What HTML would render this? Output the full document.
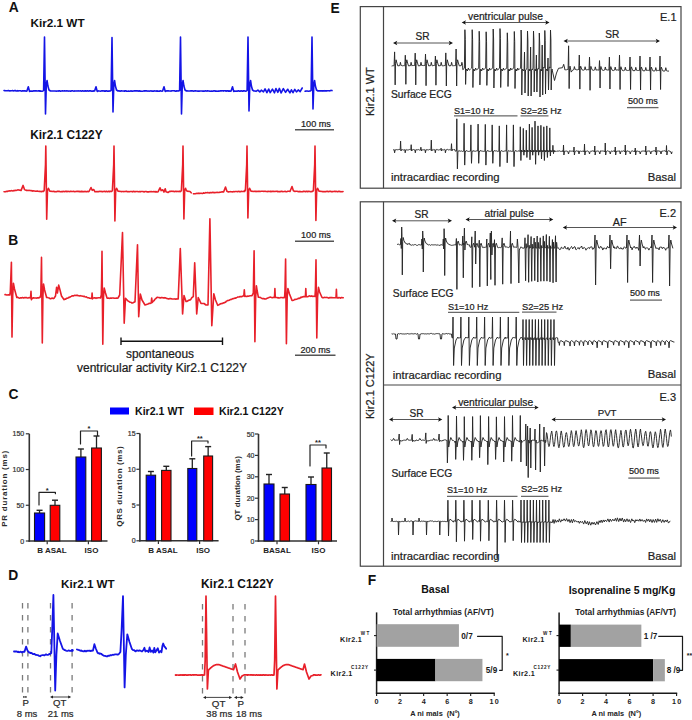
<!DOCTYPE html>
<html><head><meta charset="utf-8"><style>
html,body{margin:0;padding:0;background:#fff;}
svg{display:block;}
text{font-family:"Liberation Sans",sans-serif;}
</style></head><body>
<svg width="692" height="720" viewBox="0 0 692 720">
<rect width="692" height="720" fill="#fff"/>
<text x="8.7" y="12.4" font-family="Liberation Sans" font-size="13.8" font-weight="bold" fill="#111" text-anchor="start" >A</text>
<text x="30.4" y="26.6" font-family="Liberation Sans" font-size="11.75" font-weight="bold" fill="#111" text-anchor="start" >Kir2.1 WT</text>
<polyline points="4.00,90.50 4.72,90.61 5.43,90.75 6.15,90.73 6.86,90.81 7.58,90.66 8.29,90.43 9.01,90.79 9.72,90.86 10.44,90.84 11.15,90.69 11.87,90.78 12.58,90.54 13.30,90.87 14.01,90.76 14.73,90.63 15.45,90.53 16.16,90.94 16.88,91.03 17.59,90.59 18.31,90.96 19.02,90.78 19.74,90.67 20.45,90.76 21.17,91.01 21.88,91.08 22.60,90.68 23.31,90.98 24.03,90.71 24.74,91.06 25.46,90.88 26.17,91.17 26.89,91.00 26.90,91.00 28.30,86.80 29.50,91.40 30.50,91.00 31.23,91.24 31.96,91.00 32.69,91.25 33.42,90.90 34.14,90.79 34.87,91.05 35.60,90.77 36.33,90.85 37.06,90.95 37.79,91.06 38.52,90.83 39.25,90.77 39.97,91.18 40.70,90.91 41.43,91.23 42.16,91.20 42.89,91.00 42.90,91.00 43.60,90.40 44.50,37.00 45.50,114.00 46.30,85.00 47.10,80.50 47.90,86.00 49.00,90.00 50.50,91.00 51.21,90.94 51.92,90.98 52.63,91.01 53.34,91.07 54.06,91.05 54.77,91.03 55.48,91.06 56.19,91.22 56.90,91.00 57.61,90.97 58.32,91.11 59.03,90.87 59.74,90.90 60.46,91.24 61.17,91.01 61.88,91.02 62.59,90.76 63.30,90.96 64.01,91.04 64.72,90.76 65.43,91.06 66.14,91.07 66.86,90.78 67.57,91.06 68.28,90.98 68.99,91.09 69.70,90.93 70.41,91.10 71.12,91.12 71.83,90.76 72.54,90.78 73.26,91.09 73.97,91.23 74.68,90.88 75.39,90.98 76.10,91.05 76.81,90.91 77.52,90.93 78.23,90.91 78.95,90.93 79.66,91.05 80.37,90.90 81.08,90.94 81.79,91.14 82.50,90.76 83.21,91.03 83.92,91.12 84.63,90.91 85.35,90.86 86.06,91.15 86.77,90.87 87.48,90.84 88.19,90.97 88.90,91.10 89.61,90.80 90.32,90.91 91.03,90.92 91.75,91.17 92.46,90.97 93.17,91.18 93.88,90.83 94.59,91.00 94.60,91.00 96.00,86.80 97.20,91.40 98.20,91.00 98.92,90.92 99.63,91.08 100.35,91.19 101.07,90.98 101.79,90.86 102.50,90.81 103.22,91.01 103.94,90.85 104.65,91.15 105.37,91.17 106.09,90.84 106.80,90.89 107.52,91.15 108.24,91.07 108.96,91.15 109.67,90.92 110.39,91.00 110.40,91.00 111.10,90.40 112.00,37.50 113.00,112.00 113.80,85.00 114.60,80.50 115.40,86.00 116.50,90.00 118.00,91.00 118.71,90.81 119.42,90.90 120.12,91.15 120.83,90.89 121.54,90.92 122.25,90.96 122.95,90.96 123.66,90.95 124.37,91.21 125.08,90.83 125.79,90.75 126.49,91.22 127.20,91.19 127.91,91.24 128.62,90.97 129.32,91.23 130.03,91.21 130.74,90.86 131.45,91.12 132.16,91.17 132.86,91.08 133.57,91.01 134.28,90.89 134.99,90.92 135.69,90.86 136.40,90.78 137.11,91.04 137.82,90.89 138.53,91.16 139.23,90.77 139.94,91.20 140.65,91.10 141.36,91.21 142.06,91.20 142.77,91.20 143.48,91.04 144.19,90.76 144.90,91.12 145.60,90.84 146.31,90.90 147.02,91.08 147.73,91.01 148.43,90.96 149.14,91.22 149.85,91.06 150.56,90.92 151.27,90.88 151.97,91.18 152.68,90.99 153.39,91.14 154.10,90.93 154.80,90.85 155.51,91.02 156.22,91.16 156.93,90.84 157.64,91.15 158.34,91.21 159.05,91.15 159.76,91.16 160.47,90.75 161.17,91.06 161.88,91.18 162.59,91.00 162.60,91.00 164.00,86.80 165.20,91.40 166.20,91.00 166.91,90.77 167.61,90.89 168.31,90.88 169.02,91.01 169.72,90.96 170.43,90.99 171.13,91.14 171.84,90.75 172.55,90.78 173.25,90.81 173.96,90.81 174.66,90.78 175.37,91.24 176.07,91.18 176.78,90.79 177.48,91.00 178.19,90.91 178.89,91.00 178.90,91.00 179.60,90.40 180.50,37.00 181.50,114.00 182.30,85.00 183.10,80.50 183.90,86.00 185.00,90.00 186.50,91.00 187.21,90.91 187.92,90.93 188.62,91.07 189.33,91.04 190.04,90.93 190.75,90.85 191.45,90.91 192.16,90.81 192.87,91.03 193.58,91.11 194.29,90.94 194.99,90.79 195.70,90.84 196.41,90.94 197.12,91.05 197.82,91.14 198.53,90.94 199.24,91.15 199.95,91.06 200.66,90.97 201.36,90.94 202.07,91.00 202.78,91.10 203.49,90.96 204.19,91.10 204.90,90.98 205.61,90.87 206.32,91.02 207.03,91.10 207.73,90.79 208.44,90.96 209.15,90.96 209.86,91.19 210.56,91.22 211.27,90.94 211.98,91.20 212.69,91.15 213.40,90.88 214.10,90.98 214.81,90.81 215.52,91.16 216.23,91.08 216.93,91.19 217.64,91.15 218.35,91.08 219.06,91.12 219.77,91.03 220.47,90.80 221.18,91.04 221.89,90.75 222.60,90.82 223.30,91.14 224.01,90.77 224.72,90.80 225.43,90.80 226.14,91.19 226.84,90.84 227.55,90.76 228.26,91.17 228.97,90.81 229.67,91.17 230.38,91.09 231.09,91.00 231.10,91.00 232.50,86.80 233.70,91.40 234.70,91.00 235.43,91.17 236.16,91.23 236.89,91.04 237.62,91.15 238.35,90.77 239.08,91.13 239.81,91.01 240.55,91.11 241.28,90.80 242.01,91.12 242.74,91.22 243.47,90.78 244.20,90.91 244.93,91.03 245.66,91.16 246.39,91.00 246.40,91.00 247.10,90.40 248.00,37.00 249.00,111.00 249.80,85.00 250.60,80.50 251.40,86.00 252.50,90.00 254.00,91.00 255.00,91.00 256.00,91.34 257.89,90.05 259.83,91.90 261.29,90.16 263.45,91.79 265.06,88.88 266.88,92.68 268.71,89.06 270.24,92.61 272.43,89.06 274.49,92.83 275.95,88.61 277.88,92.31 279.31,88.41 281.14,92.95 283.33,88.70 285.56,92.36 287.68,89.25 289.92,92.82 291.41,89.81 293.00,92.68 294.79,89.44 296.47,91.92 298.21,89.94 300.14,91.70 302.20,88.00" fill="none" stroke="#1414e6" stroke-width="1.6" stroke-linejoin="round" stroke-linecap="round" />
<polyline points="305.10,91.30 305.86,91.13 306.61,91.05 307.37,91.05 308.12,91.19 308.88,91.21 309.63,90.99 310.39,91.00 310.40,91.00 311.10,90.40 312.00,37.00 313.00,109.00 313.80,85.00 314.60,80.50 315.40,86.00 316.50,90.00 318.00,91.00 318.70,90.91 319.40,90.91 320.10,90.87 320.80,90.88 321.50,90.69 322.20,90.88 322.90,91.10 323.60,90.80 324.30,90.94 325.00,90.63 325.70,90.88 326.40,90.89 327.10,90.83 327.80,90.73 328.50,90.69 329.20,90.75 329.90,90.86 330.60,90.46 331.30,90.42 332.00,90.60" fill="none" stroke="#1414e6" stroke-width="1.6" stroke-linejoin="round" stroke-linecap="round" />
<text x="30.2" y="138.6" font-family="Liberation Sans" font-size="11.85" font-weight="bold" fill="#111" text-anchor="start" >Kir2.1 C122Y</text>
<polyline points="4.00,191.70 4.70,191.77 5.41,191.79 6.11,191.47 6.82,191.34 7.52,191.43 8.23,191.03 8.93,190.99 9.64,190.87 10.34,191.02 11.05,190.78 11.75,190.65 12.46,190.84 13.16,190.92 13.87,190.44 14.57,190.61 15.28,190.35 15.98,190.54 16.69,190.29 17.39,190.02 18.10,189.91 18.80,190.00 21.10,190.40 23.10,185.40 24.50,189.60 26.10,190.40 26.82,190.16 27.54,190.48 28.26,190.47 28.98,190.39 29.70,190.55 30.43,190.57 31.15,190.89 31.87,190.55 32.59,191.11 33.31,190.85 34.03,190.96 34.75,190.93 35.47,191.20 36.19,191.23 36.91,191.12 37.63,191.12 38.35,191.31 39.08,191.44 39.80,191.21 40.52,191.46 41.24,191.64 41.96,191.39 42.68,191.29 43.40,191.50 44.20,190.50 45.50,164.50 45.80,146.00 46.15,171.50 46.70,219.20 47.50,190.00 48.40,188.30 49.80,191.10 52.80,191.50 53.51,191.34 54.22,191.63 54.93,191.61 55.64,191.78 56.35,191.71 57.06,191.35 57.77,191.31 58.48,191.36 59.19,191.31 59.90,191.62 60.61,191.72 61.32,191.74 62.03,191.35 62.74,191.72 63.45,191.39 64.16,191.45 64.87,191.64 65.58,191.25 66.29,191.26 67.00,191.70 67.71,191.38 68.42,191.41 69.13,191.55 69.84,191.61 70.55,191.20 71.25,191.40 71.96,191.46 72.67,191.49 73.38,191.33 74.09,191.55 74.80,191.77 75.51,191.43 76.22,191.53 76.93,191.27 77.64,191.36 78.35,191.60 79.06,191.27 79.77,191.73 80.48,191.75 81.19,191.26 81.90,191.76 82.61,191.42 83.32,191.66 84.03,191.65 84.74,191.38 85.45,191.61 86.16,191.59 86.87,191.68 87.58,191.36 88.29,191.65 89.00,191.50 91.00,187.50 92.20,190.30 93.80,189.50 95.00,191.80 97.00,191.50 97.73,191.78 98.46,191.60 99.19,191.52 99.92,191.27 100.65,191.50 101.38,191.41 102.11,191.63 102.84,191.61 103.57,191.54 104.30,191.31 105.03,191.59 105.76,191.58 106.49,191.31 107.22,191.73 107.95,191.59 108.68,191.27 109.41,191.76 110.14,191.28 110.87,191.40 111.60,191.50 112.40,190.50 113.70,164.50 114.00,146.00 114.35,171.50 114.90,221.00 115.70,190.00 116.60,188.30 118.00,191.10 121.00,191.50 121.71,191.64 122.42,191.57 123.13,191.55 123.85,191.61 124.56,191.50 125.27,191.42 125.98,191.35 126.69,191.29 127.40,191.68 128.12,191.71 128.83,191.59 129.54,191.71 130.25,191.49 130.96,191.44 131.67,191.52 132.38,191.82 133.10,191.32 133.81,191.61 134.52,191.46 135.23,191.78 135.94,191.53 136.65,191.53 137.37,191.57 138.08,191.66 138.79,191.81 139.50,191.56 140.21,191.86 140.92,191.43 141.63,191.53 142.35,191.43 143.06,191.45 143.77,191.85 144.48,191.83 145.19,191.51 145.90,191.52 146.62,191.66 147.33,191.86 148.04,191.91 148.75,191.87 149.46,191.79 150.17,191.52 150.88,191.68 151.60,191.56 152.31,191.77 153.02,191.80 153.73,191.59 154.44,191.62 155.15,191.95 155.87,191.50 156.58,191.97 157.29,192.03 158.00,191.80 160.00,187.80 161.20,190.60 162.80,189.80 164.00,192.10 165.20,188.80 166.00,191.80 168.00,192.50 170.00,191.20 170.71,191.49 171.41,191.17 172.12,191.29 172.83,191.33 173.53,191.38 174.24,191.61 174.95,191.45 175.65,191.24 176.36,191.60 177.07,191.39 177.77,191.48 178.48,191.58 179.19,191.16 179.89,191.64 180.60,191.50 181.40,190.50 182.70,164.50 183.00,146.00 183.35,171.50 183.90,219.00 184.70,190.00 185.60,188.30 185.80,189.50 187.00,191.10 190.00,191.50 191.20,192.80" fill="none" stroke="#e8202a" stroke-width="1.6" stroke-linejoin="round" stroke-linecap="round" />
<polyline points="193.40,193.80 194.12,193.84 194.84,193.69 195.57,193.66 196.29,193.57 197.01,193.36 197.73,193.50 198.45,193.16 199.17,193.38 199.90,193.42 200.62,193.24 201.34,193.27 202.06,193.45 202.78,193.36 203.50,192.85 204.23,193.19 204.95,193.04 205.67,192.64 206.39,192.78 207.11,192.65 207.83,192.50 208.56,192.73 209.28,192.91 210.00,192.60 210.71,192.46 211.42,192.76 212.13,192.62 212.84,192.25 213.55,192.66 214.26,192.47 214.97,192.64 215.68,192.48 216.39,192.46 217.11,192.19 217.82,192.44 218.53,192.48 219.24,192.41 219.95,192.12 220.66,192.28 221.37,192.09 222.08,191.83 222.79,191.76 223.50,192.00 223.70,191.70 225.50,187.00 226.90,191.20 228.50,192.00 229.25,191.70 229.99,191.73 230.74,191.66 231.48,191.82 232.23,191.89 232.97,191.75 233.72,191.64 234.46,191.73 235.21,191.47 235.95,191.52 236.70,191.50 237.42,191.65 238.14,191.44 238.85,191.31 239.57,191.74 240.29,191.63 241.01,191.42 241.73,191.42 242.45,191.52 243.16,191.56 243.88,191.33 244.60,191.50 244.70,190.20 245.40,190.50 246.70,164.50 247.00,146.00 247.35,171.50 247.90,218.00 248.70,190.00 249.60,188.30 251.00,191.10 254.00,191.50 254.71,191.20 255.41,191.33 256.12,191.67 256.82,191.29 257.53,191.48 258.24,191.32 258.94,191.33 259.65,191.30 260.35,191.44 261.06,191.30 261.76,191.22 262.47,191.27 263.18,191.30 263.88,191.49 264.59,191.24 265.29,191.21 266.00,191.47 266.71,191.44 267.41,191.62 268.12,191.23 268.82,191.44 269.53,191.44 270.24,191.22 270.94,191.78 271.65,191.33 272.35,191.26 273.06,191.48 273.76,191.30 274.47,191.57 275.18,191.41 275.88,191.27 276.59,191.23 277.29,191.64 278.00,191.37 278.71,191.67 279.41,191.48 280.12,191.76 280.82,191.38 281.53,191.35 282.24,191.36 282.94,191.69 283.65,191.58 284.35,191.41 285.06,191.26 285.76,191.61 286.47,191.78 287.18,191.56 287.88,191.20 288.59,191.22 289.29,191.25 290.00,191.50 292.00,186.50 293.40,190.70 295.00,191.50 295.70,191.30 296.41,191.22 297.11,191.23 297.82,191.59 298.52,191.74 299.22,191.32 299.93,191.78 300.63,191.49 301.34,191.68 302.04,191.75 302.74,191.76 303.45,191.22 304.15,191.38 304.86,191.56 305.56,191.77 306.26,191.25 306.97,191.38 307.67,191.71 308.38,191.27 309.08,191.43 309.78,191.40 310.49,191.61 311.19,191.76 311.90,191.30 312.60,191.50 313.40,190.50 314.70,164.50 315.00,146.00 315.35,171.50 315.90,220.50 316.70,190.00 317.60,188.30 319.00,191.10 322.00,191.50 322.70,191.64 323.40,191.64 324.10,191.70 324.80,191.53 325.50,191.75 326.20,191.42 326.90,191.45 327.60,191.34 328.30,191.67 329.00,191.49 329.70,191.36 330.40,191.30 331.10,191.63 331.80,191.56 332.50,191.63 333.20,191.43 333.90,191.49 334.60,191.29 335.30,191.63 336.00,191.21 336.70,191.48 337.40,191.66 338.10,191.61 338.80,191.26 339.50,191.34 340.20,191.71 340.90,191.59 341.60,191.73 342.30,191.72 343.00,191.50" fill="none" stroke="#e8202a" stroke-width="1.6" stroke-linejoin="round" stroke-linecap="round" />
<text x="301" y="126.5" font-family="Liberation Sans" font-size="9.15" font-weight="normal" fill="#222" stroke="#222" stroke-width="0.22" text-anchor="start" >100 ms</text>
<line x1="295" y1="129.8" x2="334" y2="129.8" stroke="#555" stroke-width="1.6" />
<text x="301" y="238.3" font-family="Liberation Sans" font-size="9.15" font-weight="normal" fill="#222" stroke="#222" stroke-width="0.22" text-anchor="start" >100 ms</text>
<line x1="295" y1="241.3" x2="334" y2="241.3" stroke="#555" stroke-width="1.6" />
<text x="8.3" y="244.6" font-family="Liberation Sans" font-size="13.8" font-weight="bold" fill="#111" text-anchor="start" >B</text>
<polyline points="5.00,294.60 5.80,294.63 6.60,295.01 7.40,294.96 8.20,294.75 9.00,294.84 9.80,295.00 10.30,292.00 11.40,262.20 12.00,337.10 12.70,296.00 13.40,283.20 14.50,289.00 16.80,297.50 17.60,297.33 18.40,297.68 19.20,298.19 20.00,298.00 20.71,297.69 21.43,297.99 22.14,297.64 22.86,297.59 23.57,297.96 24.29,297.65 25.00,297.80 25.79,297.51 26.57,297.61 27.36,297.99 28.14,297.97 28.93,297.60 29.71,297.78 30.50,298.00 31.00,291.40 31.40,299.70 31.80,298.00 32.64,298.33 33.48,297.80 34.32,298.04 35.16,297.94 36.00,298.00 36.80,298.10 37.60,297.87 38.40,297.90 39.20,297.62 40.00,297.50 40.80,295.00 41.50,257.40 42.30,343.00 42.90,297.00 43.50,284.00 44.60,290.00 46.60,297.50 47.45,297.56 48.30,297.82 49.15,298.03 50.00,298.60 50.80,298.75 51.60,298.17 52.40,298.03 53.20,298.61 54.00,298.20 55.50,296.00 56.60,287.30 57.40,293.00 58.70,285.10 60.00,290.00 61.50,296.00 64.10,299.70 64.88,299.15 65.66,299.30 66.44,298.39 67.22,298.32 68.00,298.00 68.80,297.37 69.60,297.35 70.40,296.76 71.20,296.34 72.00,295.80 72.80,295.88 73.60,295.86 74.40,295.39 75.20,295.47 76.00,295.30 76.75,295.35 77.50,295.20 78.25,295.80 79.00,295.72 79.75,295.96 80.50,295.62 81.25,295.94 82.00,296.00 82.73,296.17 83.45,296.56 84.18,296.30 84.91,296.69 85.64,296.99 86.36,296.90 87.09,297.44 87.82,297.76 88.55,297.75 89.27,298.10 90.00,298.20 91.70,298.50 92.10,293.10 92.50,299.00 93.00,298.00 93.75,298.07 94.50,297.80 95.25,297.90 96.00,298.35 96.75,297.88 97.50,297.95 98.25,297.71 99.00,297.80 99.75,297.77 100.50,298.00 101.30,295.00 101.70,276.70 102.00,251.30 102.80,344.20 103.50,297.00 104.20,288.00 105.50,293.00 107.00,298.00 107.71,298.30 108.43,298.16 109.14,298.26 109.86,298.34 110.57,298.08 111.29,298.30 112.00,298.00 112.75,298.03 113.50,297.94 114.25,298.31 115.00,298.28 115.75,298.31 116.50,297.99 117.25,298.19 118.00,298.00 119.70,295.00 122.50,232.50 124.20,323.30 125.50,298.30 128.00,301.00 128.75,301.27 129.50,302.01 130.25,302.29 131.00,302.19 131.75,302.97 132.50,303.00 135.00,301.70 137.50,244.70 138.70,316.70 140.30,294.00 142.00,300.00 145.00,305.00 148.00,304.00 148.80,303.53 149.60,303.22 150.40,303.41 151.20,303.00 151.70,298.00 152.20,302.50 152.95,301.52 153.70,300.85 154.45,300.10 155.20,298.85 155.95,298.50 156.70,297.50 157.45,297.39 158.21,297.54 158.96,297.53 159.72,297.85 160.47,297.90 161.23,297.62 161.98,297.54 162.74,297.72 163.49,297.85 164.25,297.66 165.00,298.00 165.70,297.86 166.40,298.38 167.10,298.44 167.80,298.73 168.50,298.84 169.20,298.86 169.90,298.61 170.60,298.56 171.30,298.77 172.00,299.00 172.78,298.97 173.55,299.02 174.32,299.03 175.10,298.90 175.88,299.25 176.65,298.85 177.42,298.97 178.20,299.00 180.30,248.50 182.60,314.00 184.00,295.60 186.00,301.40 186.80,301.39 187.60,301.05 188.40,300.42 189.20,300.10 190.00,300.00 190.82,299.36 191.65,297.96 192.48,297.19 193.30,296.60 194.70,262.90 196.70,314.00 198.20,297.50 201.00,303.40 204.00,303.50 206.00,305.00 208.00,305.00 209.90,218.80 211.80,325.80 213.80,293.70 215.50,300.00 217.70,305.30 218.42,305.02 219.13,304.73 219.85,304.17 220.57,303.79 221.28,303.59 222.00,303.50 222.71,303.36 223.42,302.81 224.13,302.84 224.84,302.37 225.56,302.17 226.27,301.17 226.98,300.95 227.69,300.49 228.40,300.50 229.20,300.17 230.00,299.82 230.80,299.33 231.60,299.39 232.40,298.79 233.20,298.65 234.00,298.50 234.75,298.09 235.50,298.24 236.25,297.73 237.00,297.38 237.75,296.99 238.50,297.03 239.25,296.93 240.00,296.60 240.76,296.60 241.52,296.65 242.28,296.46 243.04,295.94 243.80,296.00 244.30,289.80 244.80,296.50 245.54,296.14 246.29,296.48 247.03,296.40 247.77,296.11 248.51,296.23 249.26,295.94 250.00,295.80 252.00,295.60 253.30,293.00 253.60,278.00 254.10,250.70 254.90,341.70 255.70,297.00 256.40,285.90 257.20,291.00 258.40,297.30 259.13,297.32 259.87,297.42 260.60,297.50 261.33,298.11 262.07,298.47 262.80,298.65 263.53,298.52 264.27,298.84 265.00,298.90 265.71,298.97 266.43,298.66 267.14,298.29 267.86,297.93 268.57,297.77 269.29,297.30 270.00,297.30 270.75,297.11 271.50,297.50 272.25,297.74 273.00,297.47 273.75,297.40 274.50,297.50 274.90,288.60 275.30,297.50 276.08,297.45 276.87,297.57 277.65,297.86 278.43,297.67 279.22,298.07 280.00,297.80 280.77,297.51 281.53,297.57 282.30,297.67 283.07,297.54 283.83,297.80 284.60,297.50 285.00,290.00 285.60,259.10 286.40,343.70 287.20,297.00 287.90,288.60 289.50,294.00 292.00,300.40 292.71,300.43 293.43,300.30 294.14,299.88 294.86,299.27 295.57,299.45 296.29,299.23 297.00,299.00 297.72,298.72 298.44,298.31 299.17,298.35 299.89,298.22 300.61,297.39 301.33,297.52 302.06,297.04 302.78,296.88 303.50,296.60 305.40,296.60 305.80,288.60 306.20,296.60 306.96,296.76 307.72,296.68 308.48,296.34 309.24,295.91 310.00,296.00 310.71,296.37 311.43,295.92 312.14,296.13 312.86,296.52 313.57,296.23 314.29,296.27 315.00,296.50 315.40,290.00 316.00,259.90 316.80,337.90 317.60,297.00 318.50,287.40 319.60,292.00 321.90,297.30 322.66,297.68 323.42,297.74 324.19,297.36 324.95,297.47 325.71,297.46 326.48,297.42 327.24,297.56 328.00,297.80 328.77,298.14 329.53,297.51 330.30,297.61 331.07,297.59 331.83,297.51 332.60,297.80 333.45,297.74 334.30,297.82 335.15,297.81 336.00,297.50 336.40,289.20 336.80,297.80 337.52,297.89 338.24,298.02 338.97,297.45 339.69,297.65 340.41,298.12 341.13,297.50 341.86,297.64 342.58,297.79 343.30,297.80" fill="none" stroke="#e8202a" stroke-width="1.6" stroke-linejoin="round" stroke-linecap="round" />
<line x1="121" y1="341.2" x2="222.5" y2="341.2" stroke="#111" stroke-width="1.4" />
<line x1="121" y1="337.5" x2="121" y2="345" stroke="#111" stroke-width="1.4" />
<line x1="222.5" y1="337.5" x2="222.5" y2="345" stroke="#111" stroke-width="1.4" />
<text x="160" y="357.6" font-family="Liberation Sans" font-size="11.9" font-weight="normal" fill="#1a1a1a" stroke="#1a1a1a" stroke-width="0.22" text-anchor="middle" >spontaneous</text>
<text x="162" y="371.9" font-family="Liberation Sans" font-size="12" font-weight="normal" fill="#1a1a1a" stroke="#1a1a1a" stroke-width="0.22" text-anchor="middle" >ventricular activity Kir2.1 C122Y</text>
<text x="300.5" y="352.5" font-family="Liberation Sans" font-size="9.15" font-weight="normal" fill="#222" stroke="#222" stroke-width="0.22" text-anchor="start" >200 ms</text>
<line x1="295" y1="355.2" x2="335.5" y2="355.2" stroke="#555" stroke-width="1.6" />
<text x="8.4" y="398.8" font-family="Liberation Sans" font-size="13.8" font-weight="bold" fill="#111" text-anchor="start" >C</text>
<rect x="110" y="407.5" width="19" height="7" fill="#0000ff"/>
<text x="135" y="415" font-family="Liberation Sans" font-size="10.6" font-weight="bold" fill="#111" text-anchor="start" >Kir2.1 WT</text>
<rect x="194" y="407.5" width="19.5" height="7.5" fill="#ff0000"/>
<text x="219" y="415" font-family="Liberation Sans" font-size="10.6" font-weight="bold" fill="#111" text-anchor="start" >Kir2.1 C122Y</text>
<line x1="29.3" y1="433.8" x2="29.3" y2="541.8" stroke="#333" stroke-width="1.6" />
<line x1="28.5" y1="541" x2="107.5" y2="541" stroke="#333" stroke-width="1.6" />
<line x1="25.8" y1="433.8" x2="29.3" y2="433.8" stroke="#333" stroke-width="1.2" />
<text x="24.2" y="436.3" font-family="Liberation Sans" font-size="7" font-weight="normal" fill="#333" stroke="#333" stroke-width="0.22" text-anchor="end" >150</text>
<line x1="25.8" y1="469.53333333333336" x2="29.3" y2="469.53333333333336" stroke="#333" stroke-width="1.2" />
<text x="24.2" y="472.03333333333336" font-family="Liberation Sans" font-size="7" font-weight="normal" fill="#333" stroke="#333" stroke-width="0.22" text-anchor="end" >100</text>
<line x1="25.8" y1="505.26666666666665" x2="29.3" y2="505.26666666666665" stroke="#333" stroke-width="1.2" />
<text x="24.2" y="507.76666666666665" font-family="Liberation Sans" font-size="7" font-weight="normal" fill="#333" stroke="#333" stroke-width="0.22" text-anchor="end" >50</text>
<line x1="25.8" y1="541.0" x2="29.3" y2="541.0" stroke="#333" stroke-width="1.2" />
<text x="24.2" y="543.5" font-family="Liberation Sans" font-size="7" font-weight="normal" fill="#333" stroke="#333" stroke-width="0.22" text-anchor="end" >0</text>
<line x1="39.55" y1="510.3" x2="39.55" y2="513" stroke="#222" stroke-width="1.3" />
<line x1="36.55" y1="510.3" x2="42.55" y2="510.3" stroke="#222" stroke-width="1.4" />
<rect x="34.5" y="513" width="10.100000000000001" height="28" fill="#0000ff" stroke="#1a1a1a" stroke-width="1.1"/>
<line x1="55.0" y1="500.2" x2="55.0" y2="505.3" stroke="#222" stroke-width="1.3" />
<line x1="52.0" y1="500.2" x2="58.0" y2="500.2" stroke="#222" stroke-width="1.4" />
<rect x="50.2" y="505.3" width="9.599999999999994" height="35.69999999999999" fill="#ff0000" stroke="#1a1a1a" stroke-width="1.1"/>
<line x1="80.9" y1="449" x2="80.9" y2="457" stroke="#222" stroke-width="1.3" />
<line x1="77.9" y1="449" x2="83.9" y2="449" stroke="#222" stroke-width="1.4" />
<rect x="76" y="457" width="9.799999999999997" height="84" fill="#0000ff" stroke="#1a1a1a" stroke-width="1.1"/>
<line x1="96.5" y1="436" x2="96.5" y2="448" stroke="#222" stroke-width="1.3" />
<line x1="93.5" y1="436" x2="99.5" y2="436" stroke="#222" stroke-width="1.4" />
<rect x="91.6" y="448" width="9.800000000000011" height="93" fill="#ff0000" stroke="#1a1a1a" stroke-width="1.1"/>
<polyline points="39.00,505.00 39.00,492.30 55.40,492.30 55.40,493.70" fill="none" stroke="#222" stroke-width="1.2" stroke-linejoin="round" stroke-linecap="round" />
<text x="47.2" y="492.7" font-family="Liberation Sans" font-size="7.5" font-weight="bold" fill="#222" text-anchor="middle" >*</text>
<polyline points="80.50,444.00 80.50,431.00 97.50,431.00 97.50,435.50" fill="none" stroke="#222" stroke-width="1.2" stroke-linejoin="round" stroke-linecap="round" />
<text x="89.0" y="431.4" font-family="Liberation Sans" font-size="7.5" font-weight="bold" fill="#222" text-anchor="middle" >*</text>
<line x1="47.2" y1="541" x2="47.2" y2="544.3" stroke="#333" stroke-width="1.2" />
<line x1="88.4" y1="541" x2="88.4" y2="544.3" stroke="#333" stroke-width="1.2" />
<text x="52" y="552.5" font-family="Liberation Sans" font-size="8" font-weight="bold" fill="#222" text-anchor="middle" >B ASAL</text>
<text x="91.5" y="552.5" font-family="Liberation Sans" font-size="8" font-weight="bold" fill="#222" text-anchor="middle" >ISO</text>
<text x="0" y="0" font-family="Liberation Sans" font-size="8" font-weight="bold" fill="#2a2a2a" text-anchor="middle" letter-spacing="0.78" transform="translate(7.1,488.4) rotate(-90)">PR duration (ms)</text>
<line x1="139.9" y1="433.5" x2="139.9" y2="541.5999999999999" stroke="#333" stroke-width="1.6" />
<line x1="139.1" y1="540.8" x2="218.6" y2="540.8" stroke="#333" stroke-width="1.6" />
<line x1="136.4" y1="433.5" x2="139.9" y2="433.5" stroke="#333" stroke-width="1.2" />
<text x="135.6" y="436.0" font-family="Liberation Sans" font-size="7" font-weight="normal" fill="#333" stroke="#333" stroke-width="0.22" text-anchor="end" >15</text>
<line x1="136.4" y1="469.26666666666665" x2="139.9" y2="469.26666666666665" stroke="#333" stroke-width="1.2" />
<text x="135.6" y="471.76666666666665" font-family="Liberation Sans" font-size="7" font-weight="normal" fill="#333" stroke="#333" stroke-width="0.22" text-anchor="end" >10</text>
<line x1="136.4" y1="505.0333333333333" x2="139.9" y2="505.0333333333333" stroke="#333" stroke-width="1.2" />
<text x="135.6" y="507.5333333333333" font-family="Liberation Sans" font-size="7" font-weight="normal" fill="#333" stroke="#333" stroke-width="0.22" text-anchor="end" >5</text>
<line x1="136.4" y1="540.8" x2="139.9" y2="540.8" stroke="#333" stroke-width="1.2" />
<text x="135.6" y="543.3" font-family="Liberation Sans" font-size="7" font-weight="normal" fill="#333" stroke="#333" stroke-width="0.22" text-anchor="end" >0</text>
<line x1="150.89999999999998" y1="471.5" x2="150.89999999999998" y2="475.2" stroke="#222" stroke-width="1.3" />
<line x1="147.89999999999998" y1="471.5" x2="153.89999999999998" y2="471.5" stroke="#222" stroke-width="1.4" />
<rect x="146.2" y="475.2" width="9.400000000000006" height="65.59999999999997" fill="#0000ff" stroke="#1a1a1a" stroke-width="1.1"/>
<line x1="166.3" y1="466.3" x2="166.3" y2="470.4" stroke="#222" stroke-width="1.3" />
<line x1="163.3" y1="466.3" x2="169.3" y2="466.3" stroke="#222" stroke-width="1.4" />
<rect x="161.6" y="470.4" width="9.400000000000006" height="70.39999999999998" fill="#ff0000" stroke="#1a1a1a" stroke-width="1.1"/>
<line x1="192.3" y1="458.8" x2="192.3" y2="468.5" stroke="#222" stroke-width="1.3" />
<line x1="189.3" y1="458.8" x2="195.3" y2="458.8" stroke="#222" stroke-width="1.4" />
<rect x="187.8" y="468.5" width="9.0" height="72.29999999999995" fill="#0000ff" stroke="#1a1a1a" stroke-width="1.1"/>
<line x1="208.14999999999998" y1="446.6" x2="208.14999999999998" y2="456" stroke="#222" stroke-width="1.3" />
<line x1="205.14999999999998" y1="446.6" x2="211.14999999999998" y2="446.6" stroke="#222" stroke-width="1.4" />
<rect x="203.7" y="456" width="8.900000000000006" height="84.79999999999995" fill="#ff0000" stroke="#1a1a1a" stroke-width="1.1"/>
<polyline points="191.60,456.00 191.60,441.00 208.00,441.00 208.00,443.00" fill="none" stroke="#222" stroke-width="1.2" stroke-linejoin="round" stroke-linecap="round" />
<text x="199.8" y="441.4" font-family="Liberation Sans" font-size="7.5" font-weight="bold" fill="#222" text-anchor="middle" >**</text>
<line x1="158.4" y1="540.8" x2="158.4" y2="544.0999999999999" stroke="#333" stroke-width="1.2" />
<line x1="199.6" y1="540.8" x2="199.6" y2="544.0999999999999" stroke="#333" stroke-width="1.2" />
<text x="163" y="553.2" font-family="Liberation Sans" font-size="8" font-weight="bold" fill="#222" text-anchor="middle" >B ASAL</text>
<text x="203.2" y="553.2" font-family="Liberation Sans" font-size="8" font-weight="bold" fill="#222" text-anchor="middle" >ISO</text>
<text x="0" y="0" font-family="Liberation Sans" font-size="8" font-weight="bold" fill="#2a2a2a" text-anchor="middle" letter-spacing="0.6" transform="translate(122.4,486.2) rotate(-90)">QRS duration (ms)</text>
<line x1="258.5" y1="434" x2="258.5" y2="541.8" stroke="#333" stroke-width="1.6" />
<line x1="257.7" y1="541" x2="337" y2="541" stroke="#333" stroke-width="1.6" />
<line x1="255.0" y1="434.0" x2="258.5" y2="434.0" stroke="#333" stroke-width="1.2" />
<text x="254.5" y="436.5" font-family="Liberation Sans" font-size="7" font-weight="normal" fill="#333" stroke="#333" stroke-width="0.22" text-anchor="end" >50</text>
<line x1="255.0" y1="455.4" x2="258.5" y2="455.4" stroke="#333" stroke-width="1.2" />
<text x="254.5" y="457.9" font-family="Liberation Sans" font-size="7" font-weight="normal" fill="#333" stroke="#333" stroke-width="0.22" text-anchor="end" >40</text>
<line x1="255.0" y1="476.8" x2="258.5" y2="476.8" stroke="#333" stroke-width="1.2" />
<text x="254.5" y="479.3" font-family="Liberation Sans" font-size="7" font-weight="normal" fill="#333" stroke="#333" stroke-width="0.22" text-anchor="end" >30</text>
<line x1="255.0" y1="498.2" x2="258.5" y2="498.2" stroke="#333" stroke-width="1.2" />
<text x="254.5" y="500.7" font-family="Liberation Sans" font-size="7" font-weight="normal" fill="#333" stroke="#333" stroke-width="0.22" text-anchor="end" >20</text>
<line x1="255.0" y1="519.6" x2="258.5" y2="519.6" stroke="#333" stroke-width="1.2" />
<text x="254.5" y="522.1" font-family="Liberation Sans" font-size="7" font-weight="normal" fill="#333" stroke="#333" stroke-width="0.22" text-anchor="end" >10</text>
<line x1="255.0" y1="541.0" x2="258.5" y2="541.0" stroke="#333" stroke-width="1.2" />
<text x="254.5" y="543.5" font-family="Liberation Sans" font-size="7" font-weight="normal" fill="#333" stroke="#333" stroke-width="0.22" text-anchor="end" >0</text>
<line x1="269.0" y1="474.5" x2="269.0" y2="484" stroke="#222" stroke-width="1.3" />
<line x1="266.0" y1="474.5" x2="272.0" y2="474.5" stroke="#222" stroke-width="1.4" />
<rect x="264" y="484" width="10" height="57" fill="#0000ff" stroke="#1a1a1a" stroke-width="1.1"/>
<line x1="284.75" y1="487.5" x2="284.75" y2="494" stroke="#222" stroke-width="1.3" />
<line x1="281.75" y1="487.5" x2="287.75" y2="487.5" stroke="#222" stroke-width="1.4" />
<rect x="280" y="494" width="9.5" height="47" fill="#ff0000" stroke="#1a1a1a" stroke-width="1.1"/>
<line x1="311.0" y1="477" x2="311.0" y2="484.5" stroke="#222" stroke-width="1.3" />
<line x1="308.0" y1="477" x2="314.0" y2="477" stroke="#222" stroke-width="1.4" />
<rect x="306" y="484.5" width="10" height="56.5" fill="#0000ff" stroke="#1a1a1a" stroke-width="1.1"/>
<line x1="326.75" y1="453" x2="326.75" y2="468" stroke="#222" stroke-width="1.3" />
<line x1="323.75" y1="453" x2="329.75" y2="453" stroke="#222" stroke-width="1.4" />
<rect x="322" y="468" width="9.5" height="73" fill="#ff0000" stroke="#1a1a1a" stroke-width="1.1"/>
<polyline points="310.00,466.00 310.00,445.00 326.00,445.00 326.00,448.00" fill="none" stroke="#222" stroke-width="1.2" stroke-linejoin="round" stroke-linecap="round" />
<text x="318.0" y="445.4" font-family="Liberation Sans" font-size="7.5" font-weight="bold" fill="#222" text-anchor="middle" >**</text>
<line x1="277" y1="541" x2="277" y2="544.3" stroke="#333" stroke-width="1.2" />
<line x1="318.5" y1="541" x2="318.5" y2="544.3" stroke="#333" stroke-width="1.2" />
<text x="277" y="553.2" font-family="Liberation Sans" font-size="8" font-weight="bold" fill="#222" text-anchor="middle" >BASAL</text>
<text x="318.5" y="553.2" font-family="Liberation Sans" font-size="8" font-weight="bold" fill="#222" text-anchor="middle" >ISO</text>
<text x="0" y="0" font-family="Liberation Sans" font-size="8" font-weight="bold" fill="#2a2a2a" text-anchor="middle" transform="translate(239.9,488.4) rotate(-90)">QT duration (ms)</text>
<text x="8.3" y="579.5" font-family="Liberation Sans" font-size="13.8" font-weight="bold" fill="#111" text-anchor="start" >D</text>
<text x="61" y="588.3" font-family="Liberation Sans" font-size="11.65" font-weight="bold" fill="#111" text-anchor="start" >Kir2.1 WT</text>
<text x="201" y="588.3" font-family="Liberation Sans" font-size="11.9" font-weight="bold" fill="#111" text-anchor="start" >Kir2.1 C122Y</text>
<line x1="22.5" y1="603" x2="22.5" y2="694" stroke="#7a7a7a" stroke-width="1.3" stroke-dasharray="5.6,6.4"/>
<line x1="27.9" y1="603" x2="27.9" y2="694" stroke="#7a7a7a" stroke-width="1.3" stroke-dasharray="5.6,6.4"/>
<line x1="50.5" y1="603" x2="50.5" y2="694" stroke="#7a7a7a" stroke-width="1.3" stroke-dasharray="5.6,6.4"/>
<line x1="72.1" y1="603" x2="72.1" y2="694" stroke="#7a7a7a" stroke-width="1.3" stroke-dasharray="5.6,6.4"/>
<line x1="202.5" y1="604" x2="202.5" y2="694" stroke="#7a7a7a" stroke-width="1.3" stroke-dasharray="5.6,6.4"/>
<line x1="233" y1="604" x2="233" y2="694" stroke="#7a7a7a" stroke-width="1.3" stroke-dasharray="5.6,6.4"/>
<line x1="245" y1="604" x2="245" y2="694" stroke="#7a7a7a" stroke-width="1.3" stroke-dasharray="5.6,6.4"/>
<polyline points="14.00,651.50 14.75,651.38 15.50,651.66 16.25,651.33 17.00,651.54 17.75,652.18 18.50,651.59 19.25,652.26 20.00,652.00 20.75,651.71 21.50,652.33 22.25,652.04 23.00,651.98 23.75,651.55 24.50,651.80 26.10,646.60 27.50,650.50 29.00,652.50 29.71,652.36 30.43,653.14 31.14,652.88 31.86,653.11 32.57,653.83 33.29,654.09 34.00,654.00 34.77,653.92 35.54,654.94 36.31,654.88 37.09,655.05 37.86,655.11 38.63,655.63 39.40,656.00 40.10,656.27 40.80,655.57 41.50,655.33 42.20,655.22 42.90,655.08 43.60,655.13 44.30,655.46 45.00,655.00 45.71,654.52 46.43,654.47 47.14,654.92 47.86,654.83 48.57,654.67 49.29,653.94 50.00,654.00 51.30,653.00 52.20,630.00 53.40,595.00 55.20,690.50 56.40,655.00 57.70,633.50 60.00,641.00 62.90,649.00 63.72,649.28 64.54,650.16 65.36,650.19 66.18,650.76 67.00,651.00 67.73,650.78 68.46,650.47 69.19,650.66 69.91,650.91 70.64,650.87 71.37,650.63 72.10,650.50" fill="none" stroke="#1414e6" stroke-width="1.8" stroke-linejoin="round" stroke-linecap="round" />
<polyline points="76.90,649.50 77.63,649.68 78.36,649.96 79.09,650.09 79.81,650.39 80.54,650.87 81.27,650.52 82.00,651.00 82.73,651.08 83.45,651.39 84.18,651.31 84.91,650.71 85.64,651.42 86.36,651.31 87.09,650.70 87.82,650.79 88.55,650.73 89.27,650.60 90.00,651.00 93.00,650.50 94.40,644.20 95.80,648.50 97.50,652.60 98.25,653.35 99.00,653.15 99.75,653.89 100.50,653.52 101.25,653.75 102.00,654.50 102.77,655.15 103.53,655.40 104.30,655.89 105.07,655.93 105.83,656.11 106.60,656.40 107.37,656.44 108.14,655.63 108.91,655.84 109.69,655.55 110.46,655.08 111.23,655.29 112.00,655.00 112.77,654.73 113.53,654.78 114.30,654.55 115.07,654.39 115.83,654.32 116.60,654.42 117.37,654.65 118.13,654.50 118.90,654.00 120.40,652.00 121.60,630.00 123.00,596.10 124.60,687.40 125.80,655.00 127.30,634.30 129.50,642.00 131.80,648.80 132.60,649.68 133.40,650.20 134.20,650.26 135.00,651.00 135.71,651.36 136.43,650.65 137.14,650.45 137.86,650.72 138.57,650.85 139.29,650.43 140.00,650.50 142.00,651.50 143.50,649.80 144.40,647.80 145.40,651.50 147.00,650.60 148.60,652.00 149.60,647.50 150.80,651.80 152.20,650.50 153.40,652.60 154.30,648.00 155.30,652.40 156.60,650.20 157.80,648.20 159.00,652.60 160.50,651.00 161.50,652.20 162.40,646.00 163.20,643.50 164.40,646.50 165.20,647.20 166.20,648.80" fill="none" stroke="#1414e6" stroke-width="1.8" stroke-linejoin="round" stroke-linecap="round" />
<circle cx="72.3" cy="650.4" r="1.4" fill="#1414e6"/>
<polyline points="175.50,675.07 176.00,674.89 176.50,675.23 177.00,674.98 177.50,674.99 178.00,675.02 178.50,675.19 179.00,675.24 179.50,675.01 180.00,674.97 180.50,675.06 181.00,674.78 181.50,674.96 182.00,675.17 182.50,675.14 183.00,674.78 183.50,675.18 184.00,674.94 184.50,675.24 185.00,674.93 185.50,674.86 186.00,675.02 186.50,675.19 187.00,674.97 187.50,675.18 188.00,675.11 188.50,674.93 189.00,674.90 189.50,675.00 190.00,674.95 190.50,674.94 191.00,675.08 191.50,675.19 192.00,675.04 192.50,674.82 193.00,674.86 193.50,674.94 194.00,675.06 194.50,674.82 195.00,674.79 195.50,674.91 196.00,674.89 196.50,674.76 197.00,675.02 197.50,675.21 198.00,675.02 198.50,675.12 199.00,675.16 199.50,675.17 200.00,675.21 200.50,674.97 201.00,675.09 201.50,674.81 202.00,675.19 202.50,674.94 203.00,674.99 203.50,675.20 204.00,674.89 204.50,675.00 205.20,660.00 206.00,596.00 207.40,689.00 208.30,672.00 208.50,670.00 208.92,669.58 209.33,669.18 209.75,668.78 210.17,668.39 210.58,668.01 211.00,667.64 211.42,667.29 211.83,666.96 212.25,666.64 212.67,666.34 213.08,666.06 213.50,665.81 213.92,665.57 214.33,665.36 214.75,665.17 215.17,665.00 215.58,664.86 216.00,664.75 216.42,664.66 216.83,664.60 217.25,664.56 217.67,664.56 218.08,664.57 218.50,664.62 218.92,664.69 219.33,664.79 219.75,664.92 220.17,665.06 220.58,665.20 221.00,665.35 221.42,665.50 221.83,665.64 222.25,665.78 222.67,665.93 223.08,666.08 223.50,666.22 223.92,666.37 224.33,666.51 224.75,666.65 225.17,666.80 225.58,666.95 226.00,667.09 226.42,667.23 226.83,667.38 227.25,667.52 227.67,667.67 228.08,667.82 228.50,667.96 228.92,668.11 229.33,668.25 229.75,668.39 230.17,668.54 230.58,668.68 231.00,668.83 231.42,668.98 231.83,669.12 232.25,669.27 232.67,669.41 233.08,669.55 233.50,669.70 235.50,664.00 237.50,672.00 240.00,679.00 242.00,676.00 244.00,675.00 244.50,674.78 245.00,674.95 245.50,674.94 246.00,674.84 246.50,674.88 247.00,674.88 247.50,675.10 248.00,674.92 248.50,674.81 249.00,674.86 249.50,674.97 250.00,675.03 250.50,674.87 251.00,675.10 251.50,674.86 252.00,675.09 252.50,675.05 253.00,674.84 253.50,675.13 254.00,674.95 254.50,675.02 255.00,675.05 255.50,675.06 256.00,674.97 256.50,674.78 257.00,675.14 257.50,675.18 258.00,675.00 258.50,675.04 259.00,674.88 259.50,675.20 260.00,675.09 260.50,674.86 261.00,675.16 261.50,675.24 262.00,674.92 262.50,675.25 263.00,674.99 263.50,674.84 264.00,675.11 264.50,674.92 265.00,675.12 265.50,675.04 266.00,674.80 266.50,675.01 267.00,675.18 267.50,674.99 268.00,675.02 268.50,675.18 269.00,674.97 269.50,675.00 270.00,675.04 270.50,675.16 271.00,674.85 271.50,674.80 272.00,675.13 272.50,675.03 273.00,674.90 273.50,675.20 274.00,675.00 274.70,660.00 275.50,596.00 276.90,689.00 277.80,672.00 278.00,670.00 278.42,669.58 278.83,669.18 279.25,668.78 279.67,668.39 280.08,668.01 280.50,667.64 280.92,667.29 281.33,666.96 281.75,666.64 282.17,666.34 282.58,666.06 283.00,665.81 283.42,665.57 283.83,665.36 284.25,665.17 284.67,665.00 285.08,664.86 285.50,664.75 285.92,664.66 286.33,664.60 286.75,664.56 287.17,664.56 287.58,664.57 288.00,664.62 288.42,664.69 288.83,664.79 289.25,664.92 289.67,665.06 290.08,665.20 290.50,665.35 290.92,665.50 291.33,665.64 291.75,665.78 292.17,665.93 292.58,666.08 293.00,666.22 293.42,666.37 293.83,666.51 294.25,666.65 294.67,666.80 295.08,666.95 295.50,667.09 295.92,667.23 296.33,667.38 296.75,667.52 297.17,667.67 297.58,667.82 298.00,667.96 298.42,668.11 298.83,668.25 299.25,668.39 299.67,668.54 300.08,668.68 300.50,668.83 300.92,668.98 301.33,669.12 301.75,669.27 302.17,669.41 302.58,669.55 303.00,669.70 304.50,664.00 306.50,672.00 309.00,679.00 311.00,676.00 313.00,675.50 313.50,674.77 314.00,674.83 314.50,675.07 315.00,674.86 315.50,675.13 316.00,675.00 316.50,675.23 317.00,675.17 317.50,675.11 318.00,674.94 318.50,674.77 319.00,675.03 319.50,675.12 320.00,675.21 320.50,674.85 321.00,674.83" fill="none" stroke="#e8202a" stroke-width="1.7" stroke-linejoin="round" stroke-linecap="round" />
<circle cx="23.9" cy="696.9" r="0.9" fill="#333"/><circle cx="25.9" cy="696.9" r="0.9" fill="#333"/>
<text x="25.8" y="706" font-family="Liberation Sans" font-size="9.6" font-weight="normal" fill="#2a2a2a" stroke="#2a2a2a" stroke-width="0.22" text-anchor="middle" >P</text>
<line x1="51.5" y1="697" x2="69.7" y2="697" stroke="#444" stroke-width="1.0" />
<path d="M50,697 L53.0,695.5 L53.0,698.5 Z" fill="#222"/>
<path d="M71.2,697 L68.2,695.5 L68.2,698.5 Z" fill="#222"/>
<text x="59.7" y="706" font-family="Liberation Sans" font-size="9.6" font-weight="normal" fill="#2a2a2a" stroke="#2a2a2a" stroke-width="0.22" text-anchor="middle" >QT</text>
<text x="27" y="717" font-family="Liberation Sans" font-size="9.5" font-weight="normal" fill="#2a2a2a" stroke="#2a2a2a" stroke-width="0.22" text-anchor="middle" >8 ms</text>
<text x="60.7" y="717" font-family="Liberation Sans" font-size="9.5" font-weight="normal" fill="#2a2a2a" stroke="#2a2a2a" stroke-width="0.22" text-anchor="middle" >21 ms</text>
<line x1="204.5" y1="697.4" x2="230.6" y2="697.4" stroke="#444" stroke-width="1.0" />
<path d="M203,697.4 L206.0,695.9 L206.0,698.9 Z" fill="#222"/>
<path d="M232.1,697.4 L229.1,695.9 L229.1,698.9 Z" fill="#222"/>
<line x1="235.5" y1="697.4" x2="242.2" y2="697.4" stroke="#444" stroke-width="1.0" />
<path d="M234,697.4 L237.0,695.9 L237.0,698.9 Z" fill="#222"/>
<path d="M243.7,697.4 L240.7,695.9 L240.7,698.9 Z" fill="#222"/>
<text x="218.6" y="706.7" font-family="Liberation Sans" font-size="9.8" font-weight="normal" fill="#2a2a2a" stroke="#2a2a2a" stroke-width="0.22" text-anchor="middle" >QT</text>
<text x="240.7" y="706.7" font-family="Liberation Sans" font-size="9.8" font-weight="normal" fill="#2a2a2a" stroke="#2a2a2a" stroke-width="0.22" text-anchor="middle" >P</text>
<text x="219.3" y="716.6" font-family="Liberation Sans" font-size="9.5" font-weight="normal" fill="#2a2a2a" stroke="#2a2a2a" stroke-width="0.22" text-anchor="middle" >38 ms</text>
<text x="249" y="716.6" font-family="Liberation Sans" font-size="9.5" font-weight="normal" fill="#2a2a2a" stroke="#2a2a2a" stroke-width="0.22" text-anchor="middle" >18 ms</text>
<text x="330.6" y="12.7" font-family="Liberation Sans" font-size="13.8" font-weight="bold" fill="#111" text-anchor="start" >E</text>
<rect x="360.3" y="6.6" width="320.7" height="181.6" fill="none" stroke="#444" stroke-width="1.2"/>
<rect x="360.3" y="201.8" width="320.7" height="364.4" fill="none" stroke="#444" stroke-width="1.2"/>
<line x1="383.5" y1="6.6" x2="383.5" y2="188.2" stroke="#444" stroke-width="1.2" />
<line x1="383.5" y1="201.8" x2="383.5" y2="566.2" stroke="#444" stroke-width="1.2" />
<line x1="383.5" y1="385" x2="681" y2="385" stroke="#444" stroke-width="1.2" />
<text x="0" y="0" font-family="Liberation Sans" font-size="11" font-weight="normal" fill="#222" stroke="#222" stroke-width="0.22" text-anchor="middle" transform="translate(373.9,91.6) rotate(-90)">Kir2.1 WT</text>
<text x="0" y="0" font-family="Liberation Sans" font-size="11.05" font-weight="normal" fill="#222" stroke="#222" stroke-width="0.22" text-anchor="middle" transform="translate(373.9,386.2) rotate(-90)">Kir2.1 C122Y</text>
<text x="676.5" y="20.5" font-family="Liberation Sans" font-size="11" font-weight="normal" fill="#222" stroke="#222" stroke-width="0.22" text-anchor="end" >E.1</text>
<line x1="395" y1="43" x2="451" y2="43" stroke="#555" stroke-width="1.0" />
<path d="M393,43 L397.3,40.8 L396.225,43 L397.3,45.2 Z" fill="#111"/>
<path d="M453,43 L448.7,40.8 L449.775,43 L448.7,45.2 Z" fill="#111"/>
<text x="422.5" y="39.5" font-family="Liberation Sans" font-size="10.1" font-weight="normal" fill="#222" stroke="#222" stroke-width="0.22" text-anchor="middle" >SR</text>
<line x1="463.7" y1="22.5" x2="547.5" y2="22.5" stroke="#555" stroke-width="1.0" />
<path d="M461.7,22.5 L466.0,20.3 L464.925,22.5 L466.0,24.7 Z" fill="#111"/>
<path d="M549.5,22.5 L545.2,20.3 L546.275,22.5 L545.2,24.7 Z" fill="#111"/>
<text x="505.5" y="20.3" font-family="Liberation Sans" font-size="10.3" font-weight="normal" fill="#222" stroke="#222" stroke-width="0.22" text-anchor="middle" >ventricular pulse</text>
<line x1="565.5" y1="41" x2="658" y2="41" stroke="#555" stroke-width="1.0" />
<path d="M563.5,41 L567.8,38.8 L566.725,41 L567.8,43.2 Z" fill="#111"/>
<path d="M660,41 L655.7,38.8 L656.775,41 L655.7,43.2 Z" fill="#111"/>
<text x="612.3" y="38" font-family="Liberation Sans" font-size="10.1" font-weight="normal" fill="#222" stroke="#222" stroke-width="0.22" text-anchor="middle" >SR</text>
<text x="391" y="97.5" font-family="Liberation Sans" font-size="10.3" font-weight="normal" fill="#222" stroke="#222" stroke-width="0.22" text-anchor="start" >Surface ECG</text>
<text x="628" y="104" font-family="Liberation Sans" font-size="9.15" font-weight="normal" fill="#222" stroke="#222" stroke-width="0.22" text-anchor="start" >500 ms</text>
<line x1="627" y1="107.6" x2="658.5" y2="107.6" stroke="#666" stroke-width="1.3" />
<text x="454" y="114" font-family="Liberation Sans" font-size="9.1" font-weight="normal" fill="#222" stroke="#222" stroke-width="0.22" text-anchor="start" >S1=10 Hz</text>
<line x1="454" y1="115.9" x2="517.5" y2="115.9" stroke="#444" stroke-width="1.0" />
<text x="520.5" y="114" font-family="Liberation Sans" font-size="9.3" font-weight="normal" fill="#222" stroke="#222" stroke-width="0.22" text-anchor="start" >S2=25 Hz</text>
<line x1="520.5" y1="115.9" x2="548.5" y2="115.9" stroke="#444" stroke-width="1.0" />
<text x="391" y="180.7" font-family="Liberation Sans" font-size="11.3" font-weight="normal" fill="#222" stroke="#222" stroke-width="0.22" text-anchor="start" >intracardiac recording</text>
<text x="676" y="180.7" font-family="Liberation Sans" font-size="11.3" font-weight="normal" fill="#222" stroke="#222" stroke-width="0.22" text-anchor="end" >Basal</text>
<text x="676" y="217" font-family="Liberation Sans" font-size="11" font-weight="normal" fill="#222" stroke="#222" stroke-width="0.22" text-anchor="end" >E.2</text>
<line x1="394" y1="220.8" x2="450" y2="220.8" stroke="#555" stroke-width="1.0" />
<path d="M392,220.8 L396.3,218.60000000000002 L395.225,220.8 L396.3,223.0 Z" fill="#111"/>
<path d="M452,220.8 L447.7,218.60000000000002 L448.775,220.8 L447.7,223.0 Z" fill="#111"/>
<text x="421.6" y="218" font-family="Liberation Sans" font-size="10.1" font-weight="normal" fill="#222" stroke="#222" stroke-width="0.22" text-anchor="middle" >SR</text>
<line x1="467.5" y1="219.5" x2="551.3" y2="219.5" stroke="#555" stroke-width="1.0" />
<path d="M465.5,219.5 L469.8,217.3 L468.725,219.5 L469.8,221.7 Z" fill="#111"/>
<path d="M553.3,219.5 L549.0,217.3 L550.0749999999999,219.5 L549.0,221.7 Z" fill="#111"/>
<text x="509.2" y="217" font-family="Liberation Sans" font-size="10.2" font-weight="normal" fill="#222" stroke="#222" stroke-width="0.22" text-anchor="middle" >atrial pulse</text>
<line x1="564.8" y1="227.5" x2="675" y2="227.5" stroke="#555" stroke-width="1.0" />
<path d="M562.8,227.5 L567.0999999999999,225.3 L566.025,227.5 L567.0999999999999,229.7 Z" fill="#111"/>
<path d="M677,227.5 L672.7,225.3 L673.775,227.5 L672.7,229.7 Z" fill="#111"/>
<text x="619.6" y="225.5" font-family="Liberation Sans" font-size="10.8" font-weight="normal" fill="#222" stroke="#222" stroke-width="0.22" text-anchor="middle" >AF</text>
<text x="392.8" y="296.8" font-family="Liberation Sans" font-size="10.3" font-weight="normal" fill="#222" stroke="#222" stroke-width="0.22" text-anchor="start" >Surface ECG</text>
<text x="630" y="296" font-family="Liberation Sans" font-size="9.15" font-weight="normal" fill="#222" stroke="#222" stroke-width="0.22" text-anchor="start" >500 ms</text>
<line x1="630" y1="300.1" x2="662" y2="300.1" stroke="#666" stroke-width="1.3" />
<text x="448" y="309.5" font-family="Liberation Sans" font-size="9.1" font-weight="normal" fill="#222" stroke="#222" stroke-width="0.22" text-anchor="start" >S1=10 Hz</text>
<line x1="448" y1="312.3" x2="519.3" y2="312.3" stroke="#444" stroke-width="1.0" />
<text x="522" y="309.5" font-family="Liberation Sans" font-size="9.3" font-weight="normal" fill="#222" stroke="#222" stroke-width="0.22" text-anchor="start" >S2=25 Hz</text>
<line x1="522" y1="312.1" x2="556.5" y2="312.1" stroke="#444" stroke-width="1.0" />
<text x="392.8" y="378.5" font-family="Liberation Sans" font-size="11.3" font-weight="normal" fill="#222" stroke="#222" stroke-width="0.22" text-anchor="start" >intracardiac recording</text>
<text x="676" y="377.5" font-family="Liberation Sans" font-size="11.3" font-weight="normal" fill="#222" stroke="#222" stroke-width="0.22" text-anchor="end" >Basal</text>
<text x="676" y="400.7" font-family="Liberation Sans" font-size="11" font-weight="normal" fill="#222" stroke="#222" stroke-width="0.22" text-anchor="end" >E.3</text>
<line x1="391" y1="419.5" x2="440.3" y2="419.5" stroke="#555" stroke-width="1.0" />
<path d="M389,419.5 L393.3,417.3 L392.225,419.5 L393.3,421.7 Z" fill="#111"/>
<path d="M442.3,419.5 L438.0,417.3 L439.075,419.5 L438.0,421.7 Z" fill="#111"/>
<text x="416.6" y="417" font-family="Liberation Sans" font-size="10.1" font-weight="normal" fill="#222" stroke="#222" stroke-width="0.22" text-anchor="middle" >SR</text>
<line x1="454" y1="407.5" x2="536.7" y2="407.5" stroke="#555" stroke-width="1.0" />
<path d="M452,407.5 L456.3,405.3 L455.225,407.5 L456.3,409.7 Z" fill="#111"/>
<path d="M538.7,407.5 L534.4000000000001,405.3 L535.475,407.5 L534.4000000000001,409.7 Z" fill="#111"/>
<text x="495.7" y="405.5" font-family="Liberation Sans" font-size="10.3" font-weight="normal" fill="#222" stroke="#222" stroke-width="0.22" text-anchor="middle" >ventricular pulse</text>
<line x1="553.5" y1="419.5" x2="664" y2="419.5" stroke="#555" stroke-width="1.0" />
<path d="M551.5,419.5 L555.8,417.3 L554.725,419.5 L555.8,421.7 Z" fill="#111"/>
<path d="M666,419.5 L661.7,417.3 L662.775,419.5 L661.7,421.7 Z" fill="#111"/>
<text x="607.1" y="416.3" font-family="Liberation Sans" font-size="9.7" font-weight="normal" fill="#222" stroke="#222" stroke-width="0.22" text-anchor="middle" >PVT</text>
<text x="391.5" y="477" font-family="Liberation Sans" font-size="10.3" font-weight="normal" fill="#222" stroke="#222" stroke-width="0.22" text-anchor="start" >Surface ECG</text>
<text x="629" y="473.8" font-family="Liberation Sans" font-size="9.15" font-weight="normal" fill="#222" stroke="#222" stroke-width="0.22" text-anchor="start" >500 ms</text>
<line x1="628.3" y1="478.1" x2="659.7" y2="478.1" stroke="#666" stroke-width="1.3" />
<text x="447" y="492.5" font-family="Liberation Sans" font-size="9.1" font-weight="normal" fill="#222" stroke="#222" stroke-width="0.22" text-anchor="start" >S1=10 Hz</text>
<line x1="447" y1="496.3" x2="517.5" y2="496.3" stroke="#444" stroke-width="1.0" />
<text x="521" y="492.3" font-family="Liberation Sans" font-size="9.3" font-weight="normal" fill="#222" stroke="#222" stroke-width="0.22" text-anchor="start" >S2=25 Hz</text>
<line x1="521" y1="496.3" x2="548.5" y2="496.3" stroke="#444" stroke-width="1.0" />
<text x="391" y="560" font-family="Liberation Sans" font-size="11.3" font-weight="normal" fill="#222" stroke="#222" stroke-width="0.22" text-anchor="start" >intracardiac recording</text>
<text x="676" y="560" font-family="Liberation Sans" font-size="11.3" font-weight="normal" fill="#222" stroke="#222" stroke-width="0.22" text-anchor="end" >Basal</text>
<polyline points="392.00,65.94 392.60,65.77 393.20,65.59 393.80,65.77 394.10,65.60 394.60,51.90 394.85,61.60 395.15,84.90 395.50,63.60 396.10,59.80 396.90,63.00 397.80,65.90 399.80,65.60 400.40,62.30 401.10,65.60 401.60,65.52 402.20,65.57 402.80,65.95 403.40,65.68 404.00,65.43 404.60,65.74 404.80,65.60 405.30,55.20 405.55,61.60 405.85,84.30 406.20,63.60 406.80,59.80 407.60,63.00 408.50,65.90 410.50,65.60 411.10,62.30 411.80,65.60 411.80,65.81 412.40,65.56 413.00,65.72 413.60,65.48 414.20,65.41 414.70,65.60 415.20,53.10 415.45,61.60 415.75,84.90 416.10,63.60 416.70,59.80 417.50,63.00 418.40,65.90 420.40,65.60 421.00,62.30 421.70,65.60 422.00,65.27 422.60,65.49 423.20,65.39 423.80,65.65 424.40,65.44 425.00,65.60 425.50,54.00 425.75,61.60 426.05,85.70 426.40,63.60 427.00,59.80 427.80,63.00 428.70,65.90 430.70,65.60 431.30,62.30 432.00,65.60 432.20,65.66 432.80,65.69 433.40,65.56 434.00,65.34 434.60,65.95 434.90,65.60 435.40,56.00 435.65,61.60 435.95,85.20 436.30,63.60 436.90,59.80 437.70,63.00 438.60,65.90 440.60,65.60 441.20,62.30 441.90,65.60 442.40,65.75 443.00,65.86 443.60,65.88 444.20,65.28 444.80,65.72 445.30,65.60 445.80,52.90 446.05,61.60 446.35,86.00 446.70,63.60 447.30,59.80 448.10,63.00 449.00,65.90 451.00,65.60 451.60,62.30 452.30,65.60 452.60,65.77 453.20,65.62 453.80,65.79 454.40,65.61 455.00,65.69 455.60,65.60 456.10,49.00 456.35,61.60 456.65,86.00 457.00,63.60 457.60,59.80 458.40,63.00 459.30,65.90 461.30,65.60 461.90,62.30 462.60,65.60 462.80,69.64 463.40,69.41 464.00,68.45 464.40,68.00 464.90,29.70 465.30,39.70 465.60,84.40 466.00,71.00 466.50,69.00 467.30,71.00 468.40,68.00 468.80,69.64 469.40,70.02 470.00,69.56 470.60,68.94 471.20,68.43 471.70,68.00 472.20,29.70 472.60,39.70 472.90,87.50 473.30,71.00 473.80,69.00 474.60,71.00 475.70,68.00 476.00,69.37 476.60,69.69 477.20,69.28 477.80,69.21 478.40,68.35 478.70,68.00 479.20,31.25 479.60,41.25 479.90,84.90 480.30,71.00 480.80,69.00 481.60,71.00 482.70,68.00 483.20,69.51 483.80,69.45 484.40,69.10 485.00,68.50 485.60,68.15 485.65,68.00 486.15,31.80 486.55,41.80 486.85,85.40 487.25,71.00 487.75,69.00 488.55,71.00 489.65,68.00 489.80,69.51 490.40,69.65 491.00,69.34 491.60,69.03 492.20,68.58 492.70,68.00 493.20,29.00 493.60,39.00 493.90,88.00 494.30,71.00 494.80,69.00 495.60,71.00 496.70,68.00 497.00,69.36 497.60,69.88 498.20,69.70 498.80,68.62 499.40,68.31 499.50,68.00 500.00,28.60 500.40,38.60 500.70,87.50 501.10,71.00 501.60,69.00 502.40,71.00 503.50,68.00 503.60,69.20 504.20,69.91 504.80,69.57 505.40,69.12 506.00,68.62 506.60,68.32 506.80,68.00 507.30,32.80 507.70,42.80 508.00,86.50 508.40,71.00 508.90,69.00 509.70,71.00 510.80,68.00 510.80,69.39 511.40,69.41 512.00,69.79 512.60,68.87 513.20,68.23 513.80,68.00 514.30,31.50 514.70,41.50 515.00,88.50 515.40,71.00 515.90,69.00 516.70,71.00 517.80,68.00 518.00,69.68 518.60,69.60 519.20,69.38 519.80,68.69 520.40,68.42 520.60,68.00 521.10,30.00 521.50,40.00 521.80,95.00 522.20,71.00 522.70,69.00 523.50,71.00 524.10,70.00 524.50,52.00 525.00,93.00 525.50,70.00 525.80,69.88 526.40,69.49 527.00,68.00 527.50,31.00 527.90,41.00 528.20,96.00 528.60,71.00 529.10,69.00 529.90,71.00 530.20,70.00 530.60,47.00 531.10,96.00 531.60,70.00 531.80,69.36 532.40,69.99 533.00,68.00 533.50,31.00 533.90,41.00 534.20,92.00 534.60,71.00 535.10,69.00 535.90,71.00 536.00,70.00 536.40,55.00 536.90,92.00 537.40,70.00 537.80,68.58 538.40,69.06 538.80,68.00 539.30,33.00 539.70,43.00 540.00,97.00 540.40,71.00 540.90,69.00 541.70,71.00 541.80,70.00 542.20,45.00 542.70,95.00 543.20,70.00 543.20,67.25 543.80,67.79 544.30,68.00 544.80,30.50 545.20,40.50 545.50,94.00 545.90,71.00 546.40,69.00 547.20,71.00 547.60,70.00 548.00,58.00 548.50,90.00 549.00,70.00 549.20,67.19 549.80,67.07 550.00,68.00 550.50,30.00 550.90,40.00 551.20,90.00 551.60,71.00 552.10,69.00 552.20,70.00 554.50,80.50 556.50,73.00 558.50,68.30 562.50,67.70 563.70,64.30 564.60,68.00 564.80,69.79 565.40,69.81 566.00,69.84 566.60,69.91 567.20,69.27 567.80,69.51 568.10,69.60 568.60,45.80 568.85,65.60 569.15,88.60 569.50,68.60 570.00,66.10 571.20,72.10 572.60,70.10 573.80,69.60 574.40,66.60 575.10,69.60 575.60,69.40 576.20,69.93 576.80,69.55 577.40,69.82 578.00,69.39 578.60,69.52 578.80,69.73 579.30,55.00 579.55,65.73 579.85,89.10 580.20,68.73 580.70,66.23 581.90,69.73 583.30,70.23 584.50,69.73 585.10,66.73 585.80,69.73 585.80,69.59 586.40,69.84 587.00,70.15 587.60,69.63 588.20,69.90 588.80,69.59 589.00,69.85 589.50,57.10 589.75,65.85 590.05,90.30 590.40,68.85 590.90,66.35 592.10,69.85 593.50,70.35 594.70,69.85 595.30,66.85 596.00,69.85 596.00,70.21 596.60,69.90 597.20,69.87 597.80,69.97 598.40,70.10 599.00,69.97 599.50,60.60 599.75,65.97 600.05,88.00 600.40,68.97 600.90,66.47 602.10,69.97 603.50,70.47 604.70,69.97 605.30,66.97 606.00,69.97 606.20,69.86 606.80,69.78 607.40,69.96 608.00,70.15 608.60,69.99 608.90,70.09 609.40,57.10 609.65,66.09 609.95,89.00 610.30,69.09 610.80,66.59 612.00,70.09 613.40,70.59 614.60,70.09 615.20,67.09 615.90,70.09 616.40,70.04 617.00,70.43 617.60,69.89 618.20,70.19 618.80,70.17 619.00,70.21 619.50,55.00 619.75,66.21 620.05,89.50 620.40,69.21 620.90,66.71 622.10,70.21 623.50,70.71 624.70,70.21 625.30,67.21 626.00,70.21 626.00,70.34 626.60,70.15 627.20,70.42 627.80,70.53 628.40,70.44 629.00,69.98 629.50,70.34 630.00,57.00 630.25,66.34 630.55,89.50 630.90,69.34 631.40,66.84 632.60,70.34 634.00,70.84 635.20,70.34 635.80,67.34 636.50,70.34 636.80,70.12 637.40,70.47 638.00,70.34 638.60,70.47 639.20,70.34 639.50,70.46 640.00,56.00 640.25,66.46 640.55,90.00 640.90,69.46 641.40,66.96 642.60,70.46 644.00,70.96 645.20,70.46 645.80,67.46 646.50,70.46 647.00,70.89 647.60,70.30 648.20,70.41 648.80,70.39 649.40,70.83 649.50,70.58 650.00,57.00 650.25,66.58 650.55,90.00 650.90,69.58 651.40,67.08 652.60,70.58 654.00,71.08 655.20,70.58 655.80,67.58 656.50,70.58 656.60,70.99 657.20,70.50 657.80,70.54 658.40,70.42 659.00,70.46 659.50,70.70 660.00,56.00 660.25,66.70 660.55,89.50 660.90,69.70 661.40,67.20 662.60,70.70 664.00,71.20 665.20,70.70 665.80,67.70 666.50,70.70 666.80,70.90 667.40,71.05 668.00,70.96 668.60,71.10" fill="none" stroke="#262626" stroke-width="0.95" stroke-linejoin="round" stroke-linecap="round" />
<polyline points="393.50,149.84 394.10,149.60 394.20,149.70 394.60,152.80 395.20,149.70 395.30,149.87 395.90,149.92 396.50,149.61 397.10,149.60 397.70,149.78 398.30,149.51 398.90,149.97 399.50,149.35 400.10,149.80 400.20,149.70 400.60,141.10 401.00,151.00 401.40,149.70 401.90,149.75 402.50,149.68 403.10,150.02 403.70,149.97 404.30,149.76 404.80,149.70 405.20,152.80 405.80,149.70 406.10,149.47 406.70,149.93 407.30,149.93 407.90,150.04 408.50,149.88 409.10,149.62 409.70,149.49 410.30,149.81 410.80,149.70 411.20,144.70 411.60,151.00 412.00,149.70 412.10,149.75 412.70,149.93 413.30,149.60 413.90,149.56 414.50,149.98 414.90,149.70 415.30,152.80 415.90,149.70 416.30,149.74 416.90,149.65 417.50,149.80 418.10,149.71 418.70,149.55 419.30,150.04 419.90,149.97 420.50,149.70 420.90,147.20 421.30,151.00 421.70,149.70 421.70,149.49 422.30,149.86 422.90,149.93 423.50,149.81 424.10,149.50 424.70,149.85 425.00,149.70 425.40,152.80 426.00,149.70 426.50,149.76 427.10,149.66 427.70,149.80 428.30,149.88 428.90,150.04 429.50,149.43 430.10,149.75 430.70,150.01 430.90,149.70 431.30,140.10 431.70,151.00 432.10,149.70 432.50,149.95 433.10,149.37 433.70,149.90 434.30,149.79 434.90,149.70 435.30,152.80 435.90,149.70 436.10,149.78 436.70,149.44 437.30,149.72 437.90,149.53 438.50,150.00 439.10,149.91 439.70,149.68 440.30,149.88 440.70,149.70 441.10,148.20 441.50,151.00 441.90,149.70 442.10,149.46 442.70,149.95 443.30,149.88 443.90,149.88 444.50,149.41 445.00,149.70 445.40,152.80 446.00,149.70 446.30,149.75 446.90,149.69 447.50,149.39 448.10,149.65 448.70,149.97 449.30,149.79 449.90,149.57 450.50,149.92 451.10,149.70 451.50,143.70 451.90,151.00 452.30,149.70 452.30,149.63 452.90,149.40 453.50,150.03 454.10,149.40 454.70,149.53 455.30,151.29 455.90,150.83 456.40,151.10 456.80,118.80 457.10,151.00 457.40,168.90 457.90,152.00 458.80,150.50 459.80,151.10 460.10,151.16 460.70,151.19 461.30,150.98 461.90,151.04 462.50,151.44 463.10,151.43 463.70,151.10 464.10,123.30 464.40,151.00 464.70,165.10 465.20,152.00 466.10,150.50 467.10,151.10 467.30,151.29 467.90,150.87 468.50,151.43 469.10,151.07 469.70,151.38 470.30,151.32 470.50,151.10 470.90,124.90 471.20,151.00 471.50,163.30 472.00,152.00 472.90,150.50 473.90,151.10 473.90,151.24 474.50,151.14 475.10,150.96 475.70,151.33 476.30,150.89 476.90,151.06 477.50,150.81 477.70,151.10 478.10,124.10 478.40,151.00 478.70,163.30 479.20,152.00 480.10,150.50 481.10,151.10 481.10,151.20 481.70,150.94 482.30,151.37 482.90,150.79 483.50,151.36 484.10,151.19 484.70,151.33 484.90,151.10 485.30,124.40 485.60,151.00 485.90,165.10 486.40,152.00 487.30,150.50 488.30,151.10 488.30,150.83 488.90,151.30 489.50,151.36 490.10,151.35 490.70,151.34 491.30,151.14 491.80,151.10 492.20,124.90 492.50,151.00 492.80,163.30 493.30,152.00 494.20,150.50 495.20,151.10 495.50,150.92 496.10,151.07 496.70,150.83 497.30,151.43 497.90,151.15 498.50,151.27 498.90,151.10 499.30,125.90 499.60,151.00 499.90,166.60 500.40,152.00 501.30,150.50 502.30,151.10 502.70,151.31 503.30,151.37 503.90,151.31 504.50,151.04 505.10,151.17 505.70,150.83 506.20,151.10 506.60,124.90 506.90,151.00 507.20,162.80 507.70,152.00 508.60,150.50 509.60,151.10 509.90,151.43 510.50,150.92 511.10,151.32 511.70,151.32 512.30,151.42 512.90,151.08 513.00,151.10 513.40,124.90 513.70,151.00 514.00,166.60 514.50,152.00 515.40,150.50 516.40,151.10 516.50,151.16 517.10,150.79 517.70,151.41 518.30,150.97 518.90,150.80 519.50,150.93 520.00,151.50 520.30,126.80 520.60,151.00 520.90,160.50 521.30,150.00 521.90,152.00 521.90,151.44 522.50,151.19 523.00,151.50 523.30,128.40 523.60,151.00 523.90,155.20 524.30,150.00 524.90,152.00 524.90,151.02 525.50,150.93 526.00,151.50 526.30,130.20 526.60,151.00 526.90,157.50 527.30,150.00 527.90,152.00 527.90,151.27 528.50,150.97 529.10,151.50 529.40,124.10 529.70,151.00 530.00,159.80 530.40,150.00 531.00,152.00 531.50,150.93 531.80,151.50 532.10,127.40 532.40,151.00 532.70,155.20 533.10,150.00 533.70,152.00 533.90,151.43 534.50,151.02 534.70,151.50 535.00,121.10 535.30,151.00 535.60,164.30 536.00,150.00 536.60,152.00 536.90,151.12 537.50,151.28 537.70,151.50 538.00,125.90 538.30,151.00 538.60,155.20 539.00,150.00 539.60,152.00 539.90,151.16 540.50,151.07 540.60,151.50 540.90,125.30 541.20,151.00 541.50,159.00 541.90,150.00 542.50,152.00 542.90,151.32 543.50,151.50 543.80,126.80 544.10,151.00 544.40,160.50 544.80,150.00 545.40,152.00 545.90,150.75 546.50,151.50 546.80,125.90 547.10,151.00 547.40,157.50 547.80,150.00 548.40,152.00 548.90,151.16 549.50,151.50 549.80,127.90 550.10,151.00 550.40,156.00 550.80,150.00 551.40,152.00 551.90,151.12 552.50,151.30 552.60,151.50 552.90,145.30 553.20,151.00 553.50,153.70 553.90,150.00 554.50,152.00 554.90,151.27 555.50,151.37 556.10,150.81 556.70,151.43 557.30,151.18 557.90,150.93 558.50,151.08 559.10,150.82 559.70,150.91 560.30,151.34 560.90,151.25 561.50,151.36 562.10,150.86 562.70,150.83 563.20,152.00 563.50,145.00 563.90,155.00 564.40,152.00 564.50,151.25 565.10,150.96 565.70,151.27 566.30,151.16 566.90,150.95 567.50,151.30 568.00,152.00 568.50,154.00 569.00,152.00 569.30,150.88 569.90,150.78 570.50,151.08 571.10,151.11 571.70,151.18 572.30,151.01 572.90,151.40 573.50,151.30 573.70,152.00 574.00,147.00 574.40,155.00 574.90,152.00 575.30,151.42 575.90,151.04 576.50,150.82 577.10,150.87 577.70,151.24 578.30,150.87 578.50,152.00 579.00,154.00 579.50,152.00 579.50,151.22 580.10,151.00 580.70,151.21 581.30,151.41 581.90,151.31 582.50,151.19 583.10,151.19 583.70,150.97 584.20,152.00 584.50,144.00 584.90,155.00 585.40,152.00 585.50,151.16 586.10,151.09 586.70,151.28 587.30,150.89 587.90,151.25 588.50,151.43 589.00,152.00 589.50,154.00 590.00,152.00 590.30,151.44 590.90,150.81 591.50,151.32 592.10,151.16 592.70,150.80 593.30,151.19 593.90,150.76 594.45,152.00 594.75,146.00 595.15,155.00 595.65,152.00 595.70,151.40 596.30,151.38 596.90,150.85 597.50,151.03 598.10,150.86 598.70,151.28 599.25,152.00 599.75,154.00 600.25,152.00 600.50,150.83 601.10,151.35 601.70,150.92 602.30,150.98 602.90,151.06 603.50,151.14 604.10,151.04 604.70,151.41 604.95,152.00 605.25,143.00 605.65,155.00 606.15,152.00 606.50,151.35 607.10,150.92 607.70,150.87 608.30,151.34 608.90,150.97 609.50,151.37 609.75,152.00 610.25,154.00 610.75,152.00 611.30,150.98 611.90,150.82 612.50,151.36 613.10,151.06 613.70,150.99 614.30,150.87 614.90,150.91 614.95,152.00 615.25,147.00 615.65,155.00 616.15,152.00 616.70,151.14 617.30,151.19 617.90,151.11 618.50,151.10 619.10,151.03 619.70,150.88 619.75,152.00 620.25,154.00 620.75,152.00 620.90,151.38 621.50,151.14 622.10,150.93 622.70,151.39 623.30,150.89 623.90,150.87 624.50,151.19 624.95,152.00 625.25,145.00 625.65,155.00 626.15,152.00 626.30,150.83 626.90,151.44 627.50,150.86 628.10,150.99 628.70,151.44 629.30,151.30 629.75,152.00 630.25,154.00 630.75,152.00 631.10,151.35 631.70,151.03 632.30,150.76 632.90,151.30 633.50,151.40 634.10,150.78 634.70,151.07 634.95,152.00 635.25,148.00 635.65,155.00 636.15,152.00 636.50,150.96 637.10,151.30 637.70,151.06 638.30,151.45 638.90,151.35 639.50,151.35 639.75,152.00 640.25,154.00 640.75,152.00 641.30,151.23 641.90,151.16 642.50,151.09 643.10,151.15 643.70,150.96 644.30,150.89 644.90,151.39 645.45,152.00 645.75,146.00 646.15,155.00 646.65,152.00 646.70,151.43 647.30,151.11 647.90,151.22 648.50,150.99 649.10,150.85 649.70,150.98 650.25,152.00 650.75,154.00 651.25,152.00 651.50,151.39 652.10,150.96 652.70,151.38 653.30,150.88 653.90,151.06 654.50,150.84 655.10,150.85 655.70,152.00 656.00,147.00 656.40,155.00 656.90,152.00 656.90,151.13 657.50,150.90 658.10,150.97 658.70,150.98 659.30,151.38 659.90,150.81 660.50,152.00 661.00,154.00 661.50,152.00 661.70,151.15 662.30,150.93 662.90,151.45 663.50,150.83 664.10,150.85 664.70,150.76 665.30,151.06 665.90,151.35 666.20,152.00 666.50,145.50 666.90,155.00 667.40,152.00 667.70,151.31 668.30,150.80 668.90,150.76 671.00,152.00 671.50,154.00 672.00,152.00" fill="none" stroke="#262626" stroke-width="0.95" stroke-linejoin="round" stroke-linecap="round" />
<polyline points="397.50,244.35 398.10,244.21 398.70,244.24 399.30,244.75 399.90,244.60 400.50,244.50 400.90,238.50 401.30,248.50 401.70,227.00 402.00,236.50 402.30,274.90 402.70,241.50 403.20,237.50 403.90,240.50 405.20,243.00 407.70,244.50 407.70,243.74 408.30,243.74 408.90,243.67 409.50,243.40 410.10,245.08 410.70,244.75 411.30,245.26 411.90,245.03 412.50,244.79 413.10,245.33 413.70,244.95 414.30,244.58 414.90,244.78 415.50,244.55 416.10,244.93 416.70,245.41 417.30,245.44 417.90,245.15 418.50,244.65 419.10,244.74 419.70,244.70 420.30,244.87 420.90,245.14 421.50,245.00 421.90,239.00 422.30,249.00 422.70,231.00 423.00,237.00 423.30,272.00 423.70,242.00 424.20,238.00 424.90,241.00 426.20,243.50 428.70,245.00 428.70,245.00 429.30,244.68 429.90,244.75 430.50,245.32 431.10,244.85 431.70,244.69 432.30,244.78 432.90,245.02 433.50,244.90 434.10,244.85 434.70,244.82 435.30,244.72 435.90,245.00 436.50,245.10 437.10,244.59 437.70,245.09 438.30,244.81 438.90,245.48 439.50,245.44 440.10,244.63 440.70,245.20 441.30,244.85 441.90,244.61 442.50,245.38 442.90,245.00 443.30,239.00 443.70,249.00 444.10,228.70 444.40,237.00 444.70,275.50 445.10,242.00 445.60,238.00 446.30,241.00 447.60,243.50 450.10,245.00 450.30,245.09 450.90,244.85 451.50,245.36 452.10,245.35 452.70,245.19 453.30,245.04 453.90,245.20 454.50,244.70 455.10,245.31 455.70,244.63 455.90,245.00 456.40,238.50 456.90,289.40 457.40,243.00 458.20,241.00 459.40,245.00 459.90,245.20 460.50,244.60 461.10,245.38 461.70,244.93 462.30,245.00 462.80,236.00 463.30,277.80 463.80,243.00 463.90,245.00 464.40,228.10 464.90,250.00 465.40,243.00 466.20,241.00 467.40,245.00 467.70,244.62 468.30,244.59 468.90,245.35 469.50,244.87 470.10,247.23 470.70,247.29 471.30,247.20 471.80,236.80 472.30,287.60 472.80,245.20 473.60,243.20 474.70,247.20 475.20,231.00 475.70,264.00 476.20,245.20 477.00,243.20 478.20,247.20 478.50,247.53 478.80,247.20 479.30,240.20 479.80,286.80 480.30,245.20 481.10,243.20 482.30,247.20 482.70,247.63 483.30,247.66 483.90,246.83 484.50,247.48 485.10,247.63 485.70,246.96 486.30,247.20 486.80,239.00 487.30,285.90 487.80,245.20 488.60,243.20 489.80,247.20 490.30,233.00 490.80,279.50 490.90,247.20 491.40,231.00 491.90,255.00 492.40,245.20 493.20,243.20 494.00,247.20 494.50,239.70 495.00,285.30 495.50,245.20 496.30,243.20 497.50,247.20 497.70,247.55 498.30,247.69 498.90,247.52 499.50,247.41 500.10,247.46 500.70,247.61 501.30,247.13 501.70,247.20 502.20,237.90 502.70,284.20 503.20,245.20 504.00,243.20 505.20,247.20 505.50,246.95 506.10,246.79 506.70,247.06 507.30,247.22 507.90,247.29 508.50,247.64 509.10,246.77 509.70,246.96 510.00,247.20 510.50,231.00 511.00,283.60 511.50,245.20 512.30,243.20 513.50,247.20 513.90,247.60 514.50,247.03 515.10,247.33 515.70,247.10 516.30,247.45 516.90,247.20 517.40,239.00 518.00,247.00 518.40,262.00 518.80,283.00 519.30,250.00 520.50,247.50 520.50,247.06 521.10,247.27 521.70,247.07 522.30,248.09 522.90,248.34 523.50,248.14 524.10,248.30 524.60,247.00 525.00,237.78 525.60,280.76 526.10,243.64 526.50,248.03 527.10,247.52 527.65,247.00 528.05,234.67 528.65,282.31 529.15,245.26 529.50,248.22 530.10,248.01 530.70,247.00 531.10,236.52 531.70,281.32 532.20,244.12 532.50,248.50 533.10,247.71 533.70,248.11 533.75,247.00 534.15,238.00 534.75,280.67 535.25,242.20 535.50,247.85 536.10,247.74 536.70,248.23 536.80,247.00 537.20,236.06 537.80,282.02 538.30,242.37 538.50,247.90 539.10,248.24 539.70,248.31 539.85,247.00 540.25,237.75 540.85,281.27 541.35,245.52 541.50,247.89 542.10,247.70 542.70,247.50 542.90,247.00 543.30,235.91 543.90,281.16 544.40,241.39 544.50,247.54 545.10,247.56 545.70,247.82 545.95,247.00 546.35,234.56 546.95,281.15 547.45,245.41 547.50,247.69 548.10,248.08 548.70,248.05 549.00,247.00 549.40,236.30 550.00,281.83 550.50,245.80 550.50,247.94 551.10,248.01 551.70,248.17 552.05,247.00 552.45,239.60 553.05,282.80 553.55,242.20 554.10,248.25 554.70,248.05 555.10,247.00 555.50,235.76 556.10,282.02 556.60,242.29 557.10,247.57 557.70,248.05 558.30,247.70 558.90,248.82 559.50,249.56 560.10,249.15 560.70,249.25 561.30,247.12 561.90,247.51 562.50,248.31 563.10,248.16 563.70,248.42 564.30,247.06 564.90,246.12 565.50,248.18 566.10,248.90 566.70,248.72 567.30,249.09 567.90,247.22 568.50,248.31 569.10,250.19 569.70,248.99 570.30,247.98 570.90,247.45 571.50,246.43 572.10,247.56 572.70,248.88 573.30,247.54 573.90,247.78 574.50,246.54 575.10,246.93 575.70,249.45 576.30,249.69 576.90,248.91 577.50,248.39 578.10,247.49 578.70,248.67 579.30,249.15 579.90,247.67 580.50,247.06 581.10,247.22 581.70,246.04 582.30,248.22 582.90,249.02 583.50,247.73 584.10,247.31 584.70,247.75 585.30,248.25 585.90,250.22 586.50,249.64 587.10,248.31 587.70,248.21 588.30,247.60 588.90,248.08 589.50,248.62 590.10,246.97 590.70,247.12 591.30,246.81 591.90,246.85 592.50,249.20 593.10,249.29 593.70,247.89 594.30,248.10 594.40,248.00 595.00,235.00 595.60,285.00 596.20,244.00 596.80,240.00 597.60,244.00 598.80,248.00 599.10,248.07 599.70,248.21 600.30,246.62 600.90,246.30 601.50,247.72 602.10,247.61 602.70,250.04 603.30,249.11 603.90,247.84 604.50,248.18 605.10,248.25 605.70,248.83 606.30,249.04 606.90,247.38 607.50,246.36 608.10,247.82 608.70,247.52 609.30,247.74 609.40,248.00 610.00,235.00 610.60,268.80 611.20,244.00 611.80,240.00 612.60,244.00 613.80,248.00 614.10,246.67 614.70,248.41 615.30,248.01 615.90,248.20 616.50,248.57 617.10,246.29 617.70,246.15 618.30,248.04 618.90,247.84 619.50,248.70 620.10,248.89 620.70,247.61 621.30,247.93 621.90,249.10 622.50,248.89 623.10,249.20 623.70,247.76 624.30,246.76 624.90,247.53 625.50,248.09 626.10,247.58 626.40,248.00 627.00,235.00 627.60,282.50 628.20,244.00 628.80,240.00 629.60,244.00 630.80,248.00 630.90,246.97 631.50,248.32 632.10,249.86 632.70,247.81 633.30,247.61 633.90,246.42 634.50,246.57 635.10,248.08 635.70,248.20 636.30,247.19 636.90,248.33 637.50,247.53 638.10,248.09 638.70,250.32 638.90,248.00 639.50,235.00 640.10,266.00 640.70,244.00 641.30,240.00 642.10,244.00 643.30,248.00 643.50,246.72 644.10,247.00 644.70,246.96 645.30,249.15 645.90,248.57 646.50,247.75 647.10,248.31 647.70,247.98 648.30,248.47 648.90,250.11 649.50,248.55 650.10,247.99 650.70,247.34 651.30,246.26 651.40,248.00 652.00,235.00 652.60,282.50 653.20,244.00 653.80,240.00 654.60,244.00 655.80,248.00 656.10,248.59 656.70,247.75 657.30,248.47 657.90,247.88 658.50,249.02 659.10,249.87 659.70,247.18 660.30,246.98 660.90,247.39 661.50,247.02 662.10,248.52 662.70,248.48 663.30,247.01 663.90,247.77 664.50,247.94 665.10,248.81 665.70,250.28 666.30,248.63 666.90,247.74 667.50,247.98 668.10,247.93 668.40,248.00 669.00,235.00 669.60,286.00 670.20,244.00 670.80,240.00 671.60,244.00 672.80,248.00" fill="none" stroke="#262626" stroke-width="0.95" stroke-linejoin="round" stroke-linecap="round" />
<polyline points="392.00,333.87 392.60,334.04 393.20,334.18 393.80,333.52 394.40,334.08 395.00,334.12 395.50,334.00 396.00,339.00 397.00,339.00 397.50,334.00 398.00,333.70 398.60,333.61 399.20,333.94 399.80,333.91 400.40,333.61 401.00,333.54 401.60,333.80 402.20,333.97 402.80,333.93 403.40,333.91 404.00,334.12 404.60,334.01 405.20,333.75 405.80,334.00 406.40,333.93 407.00,333.67 407.60,333.53 408.20,333.70 408.80,333.97 409.40,334.00 410.00,333.64 410.60,333.83 411.20,333.46 411.80,333.88 412.40,333.76 413.00,334.01 413.60,334.09 414.20,333.44 414.80,334.17 415.40,333.54 416.00,334.17 416.60,334.19 417.20,333.58 417.80,333.63 418.00,334.00 418.50,339.00 419.50,339.00 420.00,334.00 420.20,334.17 420.80,334.05 421.40,333.69 422.00,334.02 422.60,333.68 423.20,333.66 423.80,333.74 424.40,333.96 425.00,333.65 425.60,333.85 426.20,333.85 426.80,334.04 427.40,333.78 428.00,333.74 428.60,333.84 429.20,333.77 429.80,333.99 430.40,333.49 431.00,333.54 431.60,333.43 432.20,333.73 432.80,334.08 433.40,333.88 434.00,333.91 434.60,334.15 435.20,334.06 435.80,333.63 436.40,333.58 437.00,333.83 437.60,333.58 438.20,333.88 438.80,333.46 439.40,333.71 440.00,334.00 440.50,339.00 441.50,339.00 442.00,334.00 442.40,333.55 443.00,334.12 443.60,333.89 444.20,334.11 444.80,333.83 445.40,333.79 446.00,333.61 446.60,333.45 447.20,334.16 447.80,333.58 448.40,333.46 449.00,334.15 449.60,333.83 450.20,333.86 450.80,334.14 451.40,333.99 452.00,337.81 452.60,338.00 453.00,317.00 453.60,365.50 454.30,348.00 456.00,340.00 458.00,337.00 458.00,337.72 458.60,338.06 459.20,338.07 459.80,337.67 460.40,337.94 460.50,338.00 460.90,317.00 461.50,365.50 462.20,348.00 463.90,340.00 465.90,337.00 466.40,337.60 467.00,337.95 467.60,337.74 468.20,337.80 468.40,338.00 468.80,317.00 469.40,365.50 470.10,348.00 471.80,340.00 473.80,337.00 474.20,337.69 474.80,338.13 475.40,337.79 476.00,338.35 476.30,338.00 476.70,317.00 477.30,365.50 478.00,348.00 479.70,340.00 481.70,337.00 482.00,337.62 482.60,338.24 483.20,338.16 483.80,337.90 484.20,338.00 484.60,317.00 485.20,365.50 485.90,348.00 487.60,340.00 489.60,337.00 489.80,337.69 490.40,338.23 491.00,338.13 491.60,337.92 492.10,338.00 492.50,317.00 493.10,365.50 493.80,348.00 495.50,340.00 497.50,337.00 497.60,337.83 498.20,338.24 498.80,337.89 499.40,337.86 500.00,338.00 500.40,317.00 501.00,365.50 501.70,348.00 503.40,340.00 505.40,337.00 505.40,338.36 506.00,338.05 506.60,337.99 507.20,337.66 507.80,338.29 507.90,338.00 508.30,317.00 508.90,365.50 509.60,348.00 511.30,340.00 513.30,337.00 513.80,337.61 514.40,337.65 515.00,337.90 515.60,338.17 515.80,338.00 516.20,317.00 516.80,365.50 517.50,348.00 519.20,340.00 521.20,337.00 521.60,337.62 522.20,337.99 522.70,340.00 523.00,319.50 523.50,365.50 524.00,340.00 524.00,338.13 524.60,338.03 525.20,337.64 525.80,340.00 526.10,319.50 526.60,365.50 527.10,340.00 527.60,337.74 528.20,338.07 528.80,338.12 528.90,340.00 529.20,319.50 529.70,365.50 530.20,340.00 530.60,337.61 531.20,338.08 531.80,338.17 532.00,340.00 532.30,319.50 532.80,365.50 533.30,340.00 533.60,338.20 534.20,338.17 534.80,337.71 535.10,340.00 535.40,319.50 535.90,365.50 536.40,340.00 536.60,338.17 537.20,337.86 537.80,338.37 538.20,340.00 538.50,319.50 539.00,365.50 539.50,340.00 539.60,338.39 540.20,338.27 540.80,337.74 541.30,340.00 541.60,319.50 542.10,365.50 542.60,340.00 542.60,337.70 543.20,338.31 543.80,338.03 544.40,340.00 544.70,319.50 545.20,365.50 545.70,340.00 546.20,337.95 546.80,338.18 547.40,337.93 547.50,340.00 547.80,319.50 548.30,365.50 548.80,340.00 549.20,338.29 549.80,338.20 550.40,337.74 550.60,340.00 550.90,319.50 551.40,365.50 551.90,340.00 552.20,337.89 552.80,338.06 553.40,337.77 553.70,340.00 554.00,319.50 554.50,365.50 555.00,340.00 555.20,337.89 555.80,338.25 556.40,337.67 557.00,337.61 557.60,337.94 558.20,342.56 558.80,342.61 559.00,342.30 559.40,345.35 559.90,341.40 561.00,340.60 563.50,342.10 563.60,342.13 563.90,342.30 564.30,345.61 564.80,341.40 565.90,340.60 569.22,342.10 569.60,342.41 569.62,342.30 570.02,346.08 570.52,341.40 571.62,340.60 573.68,342.10 573.80,342.36 574.08,342.30 574.48,345.96 574.98,341.40 576.08,340.60 578.62,342.10 579.02,342.30 579.42,345.31 579.92,341.40 581.02,340.60 582.70,342.10 582.80,342.48 583.10,342.30 583.50,345.88 584.00,341.40 585.10,340.60 587.16,342.10 587.56,342.30 587.96,344.94 588.46,341.40 589.56,340.60 591.77,342.10 591.80,343.45 592.17,342.30 592.57,344.87 593.07,341.40 594.17,340.60 596.35,342.10 596.60,342.93 596.75,342.30 597.15,347.80 597.65,341.40 598.75,340.60 601.41,342.10 601.81,342.30 602.21,345.08 602.71,341.40 603.81,340.60 606.93,342.10 607.33,342.30 607.73,347.80 608.23,341.40 609.33,340.60 612.79,342.10 612.80,342.04 613.19,342.30 613.59,345.10 614.09,341.40 615.19,340.60 618.16,342.10 618.20,342.08 618.56,342.30 618.96,345.67 619.46,341.40 620.56,340.60 623.61,342.10 624.01,342.30 624.41,345.14 624.91,341.40 626.01,340.60 627.99,342.10 628.39,342.30 628.79,347.80 629.29,341.40 630.39,340.60 633.30,342.10 633.70,342.30 634.10,345.06 634.60,341.40 635.70,340.60 638.64,342.10 639.04,342.30 639.44,344.61 639.94,341.40 641.04,340.60 644.20,342.10 644.60,343.36 644.60,342.30 645.00,345.94 645.50,341.40 646.60,340.60 650.14,342.10 650.54,342.30 650.94,347.80 651.44,341.40 652.54,340.60 655.53,342.10 655.93,342.30 656.33,345.75 656.83,341.40 657.93,340.60 659.81,342.10 660.20,342.02 660.21,342.30 660.61,345.48 661.11,341.40 662.21,340.60 664.19,342.10 664.40,341.91 664.59,342.30 664.99,344.85 665.49,341.40 666.59,340.60 668.24,342.10 668.60,342.63 668.64,342.30 669.04,347.80 669.54,341.40 670.64,340.60 673.94,342.10 674.00,342.10" fill="none" stroke="#262626" stroke-width="0.95" stroke-linejoin="round" stroke-linecap="round" />
<polyline points="391.00,439.83 391.60,440.59 392.20,440.37 392.60,440.30 393.60,438.40 394.60,440.00 394.60,440.30 395.20,440.09 395.80,440.33 396.40,440.11 397.00,440.11 397.60,440.06 398.20,440.39 398.60,439.60 399.20,434.00 399.55,444.50 400.00,440.50 401.20,441.00 403.20,440.50 403.60,440.15 404.20,439.85 404.80,440.40 405.40,440.21 406.00,440.48 406.30,440.30 407.30,438.40 408.30,440.00 408.40,440.11 409.00,440.45 409.60,440.20 410.20,440.32 410.80,439.97 411.40,440.30 411.60,439.60 412.20,434.40 412.55,441.60 413.00,440.50 414.20,441.00 416.20,440.50 416.20,440.14 416.80,439.86 417.40,440.59 418.00,440.04 418.60,440.49 418.80,440.30 419.80,438.40 420.80,440.00 421.00,440.24 421.60,440.42 422.20,440.27 422.80,439.93 423.40,440.23 424.00,439.88 424.60,440.48 425.20,439.60 425.80,432.90 426.15,443.40 426.60,440.50 427.80,441.00 429.80,440.50 430.00,440.39 430.60,440.21 431.20,440.31 431.80,440.07 432.40,440.26 432.70,440.30 433.70,438.40 434.70,440.00 434.80,440.44 435.40,439.97 436.00,440.03 436.60,439.99 437.20,440.54 437.80,439.88 438.40,440.03 438.50,439.60 439.10,434.00 439.45,441.60 439.90,440.50 441.10,441.00 443.10,440.50 443.20,439.90 443.80,440.46 444.40,439.80 445.00,439.86 445.60,439.95 446.20,440.47 446.80,440.08 447.00,441.00 447.40,462.90 447.90,445.00 448.20,415.44 448.70,447.00 449.50,442.00 450.80,437.50 452.40,440.50 452.80,440.51 453.40,440.48 454.00,441.21 454.60,441.54 455.20,442.69 455.30,441.00 455.70,459.40 456.20,445.00 456.50,416.01 457.00,447.00 457.80,442.00 459.10,437.50 460.70,440.50 461.20,440.36 461.80,441.06 462.40,441.84 463.00,442.32 463.10,441.00 463.50,460.30 464.00,445.00 464.30,416.63 464.80,447.00 465.60,442.00 466.90,437.50 468.50,440.50 469.00,440.67 469.60,440.66 470.20,441.27 470.80,442.10 471.40,441.00 471.80,460.30 472.30,445.00 472.60,416.56 473.10,447.00 473.90,442.00 475.20,437.50 476.80,440.50 476.80,440.19 477.40,440.63 478.00,440.93 478.60,441.98 479.20,441.00 479.60,457.70 480.10,445.00 480.40,415.62 480.90,447.00 481.70,442.00 483.00,437.50 484.60,440.50 484.60,440.45 485.20,440.43 485.80,440.69 486.40,441.17 487.00,441.79 487.40,441.00 487.80,464.60 488.30,445.00 488.60,416.52 489.10,447.00 489.90,442.00 491.20,437.50 492.80,440.50 493.00,440.46 493.60,440.40 494.20,440.78 494.80,441.89 495.20,441.00 495.60,459.40 496.10,445.00 496.40,416.87 496.90,447.00 497.70,442.00 499.00,437.50 500.60,440.50 500.80,440.02 501.40,440.73 502.00,440.98 502.60,441.16 503.20,441.75 503.30,441.00 503.70,462.00 504.20,445.00 504.50,416.61 505.00,447.00 505.80,442.00 507.10,437.50 508.70,440.50 509.20,440.33 509.80,440.25 510.40,440.99 511.00,441.47 511.30,441.00 511.70,461.20 512.20,445.00 512.50,415.57 513.00,447.00 513.80,442.00 515.10,437.50 516.70,440.50 517.00,440.09 517.60,440.65 518.20,440.90 518.80,441.23 519.40,442.13 519.90,440.00 520.30,415.50 520.90,462.00 521.40,440.00 521.80,442.56 522.40,441.87 523.00,441.24 523.60,440.61 524.20,440.77 524.80,440.14 525.40,440.00 525.80,424.00 526.40,466.00 526.90,440.00 527.20,440.00 527.60,426.00 528.20,477.60 528.70,440.00 529.00,442.97 529.60,442.93 529.80,440.00 530.20,428.00 530.80,468.00 531.30,440.00 531.40,441.56 532.00,440.57 532.60,440.08 533.20,439.93 533.80,440.50 534.40,440.67 534.60,440.00 535.00,429.00 535.60,470.00 536.10,440.00 536.20,442.28 536.80,442.81 537.40,442.77 538.00,442.74 538.60,442.17 539.20,441.81 539.30,440.00 539.70,424.00 540.30,472.00 540.80,440.00 541.00,440.40 541.60,440.27 542.20,440.64 542.80,440.85 543.40,441.43 543.60,440.00 544.00,427.00 544.60,466.00 545.10,440.00 545.20,442.61 545.80,442.28 546.50,432.62 546.90,433.51 547.30,435.93 547.70,439.29 548.10,442.74 548.50,445.40 548.90,446.60 549.30,446.04 549.70,443.87 550.10,440.62 550.50,437.13 550.90,434.26 551.30,432.75 551.70,431.02 552.10,433.20 552.50,436.75 552.90,440.78 553.30,444.28 553.70,446.35 554.10,446.47 554.50,444.63 554.90,441.27 555.30,437.25 555.70,433.59 556.10,431.19 556.50,430.99 556.90,432.56 557.30,435.84 557.70,440.00 558.10,444.00 558.50,446.82 558.90,447.75 559.30,446.56 559.70,443.54 560.10,439.47 560.50,435.36 560.90,432.26 561.30,430.94 561.70,433.17 562.10,435.57 562.50,439.06 562.90,442.75 563.30,445.72 563.70,447.21 564.10,446.86 564.50,444.74 564.90,441.40 565.30,437.67 565.70,434.50 566.10,432.69 566.50,432.68 566.90,434.42 567.30,437.47 567.70,441.04 568.10,444.25 568.50,446.29 568.90,446.63 569.30,445.19 569.70,442.34 570.10,438.79 570.50,435.45 570.90,433.14 571.30,430.61 571.70,431.87 572.10,434.83 572.50,438.75 572.90,442.63 573.30,445.51 573.70,446.64 574.10,445.75 574.50,443.06 574.90,439.25 575.30,435.28 575.70,432.16 576.10,430.66 576.50,433.05 576.90,435.07 577.30,438.16 577.70,441.56 578.10,444.39 578.50,445.96 578.90,445.85 579.30,444.10 579.70,441.15 580.10,437.74 580.50,434.74 580.90,432.90 581.30,429.76 581.70,431.72 582.10,435.43 582.50,439.95 582.90,444.15 583.30,446.96 583.70,447.68 584.10,446.12 584.50,442.68 584.90,438.23 585.30,433.88 585.70,430.74 586.10,429.60 586.50,430.68 586.90,433.51 587.30,437.42 587.70,441.43 588.10,444.53 588.50,445.93 588.90,445.28 589.30,442.75 589.70,438.97 590.10,434.90 590.50,431.56 590.90,429.80 591.30,430.59 591.70,432.87 592.10,436.59 592.50,440.80 592.90,444.46 593.30,446.62 593.70,446.75 594.10,444.82 594.50,441.31 594.90,437.11 595.30,433.27 595.70,430.78 596.10,430.58 596.50,432.06 596.90,435.16 597.30,439.08 597.70,442.84 598.10,445.50 598.50,446.38 598.90,445.26 599.30,442.42 599.70,438.58 600.10,434.70 600.50,431.78 600.90,430.53 601.30,430.89 601.70,433.54 602.10,437.39 602.50,441.48 602.90,444.76 603.30,446.42 603.70,446.02 604.10,443.68 604.50,439.99 604.90,435.87 605.30,432.36 605.70,430.35 606.10,429.68 606.50,431.84 606.90,435.61 607.30,440.04 607.70,444.02 608.10,446.53 608.50,446.96 608.90,445.18 609.30,441.65 609.70,437.26 610.10,433.11 610.50,430.26 610.90,429.63 611.30,430.93 611.70,434.01 612.10,438.08 612.50,442.11 612.90,445.10 613.30,446.28 613.70,445.35 614.10,442.56 614.50,438.61 614.90,434.48 615.30,431.23 615.70,429.68 616.10,432.98 616.50,435.30 616.90,438.86 617.30,442.77 617.70,446.03 618.10,447.82 618.50,447.70 618.90,445.69 619.30,442.30 619.70,438.38 620.10,434.92 620.50,432.81 620.90,430.37 621.30,432.20 621.70,435.65 622.10,439.87 622.50,443.79 622.90,446.41 623.30,447.09 623.70,445.63 624.10,442.42 624.50,438.27 624.90,434.22 625.30,431.29 625.70,430.22 626.10,430.15 626.50,433.05 626.90,437.07 627.30,441.19 627.70,444.37 628.10,445.81 628.50,445.14 628.90,442.54 629.30,438.66 629.70,434.48 630.10,431.05 630.50,429.24 630.90,431.19 631.30,433.55 631.70,437.41 632.10,441.78 632.50,445.56 632.90,447.81 633.30,447.95 633.70,445.95 634.10,442.30 634.50,437.95 634.90,433.97 635.30,431.38 635.70,429.09 636.10,430.76 636.50,434.25 636.90,438.69 637.30,442.94 637.70,445.94 638.10,446.93 638.50,445.66 638.90,442.46 639.30,438.12 639.70,433.74 640.10,430.44 640.50,429.03 640.90,432.55 641.30,434.80 641.70,438.08 642.10,441.55 642.50,444.33 642.90,445.74 643.30,445.41 643.70,443.42 644.10,440.28 644.50,436.78 644.90,433.80 645.30,432.10 645.70,431.29 646.10,433.17 646.50,436.46 646.90,440.33 647.30,443.80 647.70,445.99 648.10,446.36 648.50,444.81 648.90,441.73 649.30,437.90 649.70,434.28 650.10,431.79 650.50,431.73 650.90,433.00 651.30,435.98 651.70,439.92 652.10,443.82 652.50,446.71 652.90,447.85 653.30,446.96 653.70,444.26 654.10,440.43 654.50,436.43 654.90,433.29 655.30,431.78 655.70,432.79 656.10,435.10 656.50,438.64 656.90,442.53 657.30,445.78 657.70,447.56 658.10,447.44 658.50,445.44 658.90,442.06 659.30,438.16 659.70,434.73 660.10,432.62 660.50,429.22 660.90,431.20 661.30,434.96 661.70,439.55 662.10,443.82 662.50,446.67 662.90,447.40 663.30,445.82 663.70,442.33 664.10,437.81 664.50,433.40 664.90,430.21 665.30,429.05 665.70,431.92 666.10,434.63 666.50,438.37 666.90,442.21 667.30,445.18 667.70,446.52 668.10,445.90 668.50,443.47 668.90,439.86 669.30,435.96 669.70,432.76 670.10,431.08 670.50,429.94 670.90,432.31 671.30,436.18" fill="none" stroke="#262626" stroke-width="0.95" stroke-linejoin="round" stroke-linecap="round" />
<polyline points="391.00,521.46 391.60,520.81 391.70,521.30 392.00,518.00 392.50,521.30 392.80,521.33 393.40,521.58 394.00,521.15 394.60,521.44 395.20,521.31 395.80,521.58 396.40,521.23 397.00,521.62 397.60,521.67 398.20,521.30 398.50,535.00 399.00,521.30 399.40,521.51 400.00,521.32 400.60,521.77 401.20,521.73 401.80,521.30 402.40,521.49 403.00,520.91 403.60,521.70 404.20,521.42 404.70,521.30 405.00,518.00 405.50,521.30 406.00,521.65 406.60,521.58 407.20,521.42 407.80,521.20 408.40,521.04 409.00,521.28 409.60,521.71 410.20,521.43 410.80,520.84 411.40,521.01 412.00,520.88 412.60,521.67 412.70,521.30 413.00,535.00 413.50,521.30 413.80,521.73 414.40,521.23 415.00,521.12 415.60,520.86 416.20,521.05 416.80,521.14 417.40,521.19 418.00,521.14 418.60,521.53 418.70,521.30 419.00,518.00 419.50,521.30 419.80,521.18 420.40,521.62 421.00,521.09 421.60,521.07 422.20,521.60 422.80,520.89 423.40,520.88 424.00,521.79 424.60,521.27 425.20,521.21 425.80,521.57 426.20,521.30 426.50,535.00 427.00,521.30 427.00,521.17 427.60,521.61 428.20,520.93 428.80,521.69 429.40,521.21 430.00,521.19 430.60,520.82 431.20,520.87 431.80,521.19 432.40,520.91 433.00,521.46 433.60,521.80 434.20,521.09 434.80,521.55 435.40,521.38 436.00,521.42 436.60,521.58 437.20,521.28 437.80,521.63 438.40,520.96 439.00,521.48 439.45,521.30 439.75,535.00 440.25,521.30 440.80,521.03 441.40,521.75 442.00,521.44 442.60,521.30 443.20,521.30 443.80,521.65 444.40,521.43 445.00,521.02 445.60,521.74 446.20,521.65 446.80,521.58 447.40,521.51 447.50,521.60 447.90,500.20 448.20,515.00 448.50,536.00 449.00,521.00 449.90,519.30 451.40,520.00 453.40,522.20 453.40,521.03 454.00,521.22 454.60,520.89 455.20,521.32 455.40,521.60 455.80,500.20 456.10,515.00 456.40,541.80 456.90,521.00 457.80,519.30 459.30,520.00 461.30,522.20 461.80,521.17 462.40,521.37 463.00,520.92 463.50,521.60 463.90,500.20 464.20,515.00 464.50,541.20 465.00,521.00 465.90,519.30 467.40,520.00 469.40,522.20 469.60,521.33 470.20,520.94 470.80,521.50 471.40,521.80 471.70,521.60 472.10,500.20 472.40,515.00 472.70,539.50 473.20,521.00 474.10,519.30 475.60,520.00 477.60,522.20 478.00,521.37 478.60,520.81 479.20,520.84 479.50,521.60 479.90,500.20 480.20,515.00 480.50,541.20 481.00,521.00 481.90,519.30 483.40,520.00 485.40,522.20 485.80,521.62 486.40,521.28 487.00,521.17 487.60,521.66 487.90,521.60 488.30,500.20 488.60,515.00 488.90,540.70 489.40,521.00 490.30,519.30 491.80,520.00 493.80,522.20 494.20,520.83 494.80,521.55 495.40,521.56 496.00,520.85 496.20,521.60 496.60,500.20 496.90,515.00 497.20,558.60 497.70,521.00 498.60,519.30 500.10,520.00 502.10,522.20 502.60,521.79 503.20,521.60 503.80,521.28 504.10,521.60 504.50,500.20 504.80,515.00 505.10,542.40 505.60,521.00 506.50,519.30 508.00,520.00 510.00,522.20 510.40,521.61 511.00,521.64 511.60,521.60 512.20,521.60 512.60,500.20 512.90,515.00 513.20,540.70 513.70,521.00 514.60,519.30 516.10,520.00 518.10,522.20 518.20,521.32 518.80,520.97 519.40,521.29 520.00,522.41 520.60,521.84 520.70,522.00 521.00,500.00 521.50,542.50 522.00,522.00 522.40,522.30 523.00,521.69 523.60,522.46 523.80,522.00 524.10,500.00 524.60,542.50 525.10,522.00 525.40,522.07 526.00,522.28 526.60,522.21 526.90,522.00 527.20,500.00 527.70,542.50 528.20,522.00 528.40,521.70 529.00,521.83 529.60,521.79 530.00,522.00 530.30,500.00 530.80,542.50 531.30,522.00 531.40,521.71 532.00,522.04 532.60,522.11 533.10,522.00 533.40,500.00 533.90,542.50 534.40,522.00 534.40,521.83 535.00,522.31 535.60,521.51 536.20,522.00 536.50,500.00 537.00,542.50 537.50,522.00 538.00,522.14 538.60,522.48 539.20,521.64 539.30,522.00 539.60,500.00 540.10,542.50 540.60,522.00 541.00,522.22 541.60,522.04 542.20,521.98 542.40,522.00 542.70,500.00 543.20,542.50 543.70,522.00 544.00,522.38 544.60,521.57 545.20,522.16 545.50,522.00 545.80,500.00 546.30,542.50 546.80,522.00 547.00,521.76 547.60,522.30 548.20,521.82 548.60,522.00 548.90,500.00 549.40,542.50 549.90,522.00 550.00,522.46 550.60,521.97 551.20,521.85 552.00,522.95 553.10,519.47 554.12,523.41 555.09,519.65 556.21,522.34 557.35,520.29 558.36,522.09 559.36,518.82 560.60,522.16 561.85,519.64 562.76,520.93 564.10,518.79 565.48,521.11 566.58,518.58 567.90,521.56 569.04,519.36 570.06,522.62 571.41,519.50 572.38,522.83 573.52,519.21 574.62,521.75 575.90,520.58 577.27,522.20 578.34,521.05 579.35,523.33 580.29,521.18 581.22,522.55 582.38,521.34 583.66,524.08 584.81,520.54 586.19,523.87 587.48,521.38 588.47,525.05 589.39,521.73 590.75,525.20 591.99,522.18 593.10,524.24 594.19,522.28 595.49,525.01 596.88,521.64 598.23,524.43 599.14,520.76 600.08,522.62 601.21,520.07 602.20,522.63 603.34,519.93 604.30,521.97 605.21,519.96 606.60,521.55 607.88,518.89 609.21,522.10 610.14,519.00 611.45,521.40 612.78,519.18 614.10,520.97 615.40,518.36 616.47,521.29 617.39,517.85 618.72,521.60 619.95,518.30 621.07,521.02 622.29,517.98 623.62,522.07 624.61,519.23 625.65,521.77 627.00,518.81 628.19,521.65 629.18,519.51 630.57,522.54 631.80,518.83 632.81,521.04 633.72,519.97 634.72,522.67 635.91,519.63 636.86,521.03 637.76,519.77 638.83,521.26 639.85,518.94 640.81,521.23 642.10,519.52 643.31,521.48 644.56,519.98 645.59,522.47 646.64,518.92 647.65,521.18 648.76,519.22 649.68,521.90 650.79,519.41 652.07,522.56 653.17,519.56 654.46,522.40 655.61,519.10 656.68,522.40 657.87,518.74 658.92,521.34 660.25,519.26 661.55,522.56 662.84,519.71 664.17,522.40 665.28,520.10 666.22,521.80 667.28,519.87 668.49,523.09 670.00,521.17" fill="none" stroke="#262626" stroke-width="0.95" stroke-linejoin="round" stroke-linecap="round" />
<text x="367.7" y="585" font-family="Liberation Sans" font-size="13.8" font-weight="bold" fill="#111" text-anchor="start" >F</text>
<text x="435.3" y="592.8" font-family="Liberation Sans" font-size="10.5" font-weight="bold" fill="#111" text-anchor="middle" >Basal</text>
<text x="622" y="593.5" font-family="Liberation Sans" font-size="10.55" font-weight="bold" fill="#111" text-anchor="middle" >Isoprenaline 5 mg/Kg</text>
<text x="443.4" y="615.3" font-family="Liberation Sans" font-size="8.3" font-weight="bold" fill="#222" text-anchor="middle" >Total arrhythmias (AF/VT)</text>
<line x1="376.6" y1="612.4" x2="376.6" y2="694.0" stroke="#1a1a1a" stroke-width="1.5" />
<line x1="375.90000000000003" y1="693.2" x2="494.80000000000007" y2="693.2" stroke="#1a1a1a" stroke-width="1.5" />
<line x1="376.6" y1="693.2" x2="376.6" y2="696.0" stroke="#1a1a1a" stroke-width="1.1" />
<text x="376.6" y="703.6" font-family="Liberation Sans" font-size="7.2" font-weight="bold" fill="#222" text-anchor="middle" letter-spacing="0">0</text>
<line x1="400.12" y1="693.2" x2="400.12" y2="696.0" stroke="#1a1a1a" stroke-width="1.1" />
<text x="400.12" y="703.6" font-family="Liberation Sans" font-size="7.2" font-weight="bold" fill="#222" text-anchor="middle" letter-spacing="0">2</text>
<line x1="423.64000000000004" y1="693.2" x2="423.64000000000004" y2="696.0" stroke="#1a1a1a" stroke-width="1.1" />
<text x="423.64000000000004" y="703.6" font-family="Liberation Sans" font-size="7.2" font-weight="bold" fill="#222" text-anchor="middle" letter-spacing="0">4</text>
<line x1="447.16" y1="693.2" x2="447.16" y2="696.0" stroke="#1a1a1a" stroke-width="1.1" />
<text x="447.16" y="703.6" font-family="Liberation Sans" font-size="7.2" font-weight="bold" fill="#222" text-anchor="middle" letter-spacing="0">6</text>
<line x1="470.68" y1="693.2" x2="470.68" y2="696.0" stroke="#1a1a1a" stroke-width="1.1" />
<text x="470.68" y="703.6" font-family="Liberation Sans" font-size="7.2" font-weight="bold" fill="#222" text-anchor="middle" letter-spacing="0">8</text>
<line x1="494.20000000000005" y1="693.2" x2="494.20000000000005" y2="696.0" stroke="#1a1a1a" stroke-width="1.1" />
<text x="494.80000000000007" y="703.6" font-family="Liberation Sans" font-size="7.2" font-weight="bold" fill="#222" text-anchor="middle" letter-spacing="1.2">10</text>
<text x="435" y="716.3" font-family="Liberation Sans" font-size="7.4" font-weight="bold" fill="#222" text-anchor="middle" style="white-space:pre">A ni mals  (Nº)</text>
<rect x="376.6" y="624.2" width="82.32" height="22.59999999999991" fill="#a2a2a2"/>
<rect x="376.6" y="658.9" width="58.8" height="22.300000000000068" fill="#000"/>
<rect x="435.40000000000003" y="658.9" width="47.04" height="22.300000000000068" fill="#a2a2a2"/>
<line x1="374.0" y1="635.6" x2="376.6" y2="635.6" stroke="#1a1a1a" stroke-width="1.1" />
<line x1="374.0" y1="670.1" x2="376.6" y2="670.1" stroke="#1a1a1a" stroke-width="1.1" />
<text x="461.3" y="639.3" font-family="Liberation Sans" font-size="8.2" font-weight="bold" fill="#1a1a1a" text-anchor="start" >0/7</text>
<text x="485.8" y="673.4" font-family="Liberation Sans" font-size="8.2" font-weight="bold" fill="#1a1a1a" text-anchor="start" >5/9</text>
<polyline points="477.50,636.30 502.20,636.30 502.20,670.30 499.60,670.30" fill="none" stroke="#1a1a1a" stroke-width="1.2" stroke-linejoin="round" stroke-linecap="round" />
<text x="340.1" y="641.9" font-family="Liberation Sans" font-size="7.2" font-weight="bold" fill="#1a1a1a" letter-spacing="0.35">Kir2.1</text>
<text x="360.70000000000005" y="634.8" font-family="Liberation Sans" font-size="4.6" font-weight="bold" fill="#1a1a1a" letter-spacing="1.6">WT</text>
<text x="330.6" y="676.1" font-family="Liberation Sans" font-size="7.2" font-weight="bold" fill="#1a1a1a" letter-spacing="0.35">Kir2.1</text>
<text x="351.0" y="668.9" font-family="Liberation Sans" font-size="4.6" font-weight="bold" fill="#1a1a1a" letter-spacing="0.75">C122Y</text>
<text x="507.3" y="658" font-family="Liberation Sans" font-size="7" font-weight="bold" fill="#222" text-anchor="middle" >*</text>
<text x="625.7" y="615.3" font-family="Liberation Sans" font-size="8.3" font-weight="bold" fill="#222" text-anchor="middle" >Total arrhythmias (AF/VT)</text>
<line x1="559.1" y1="612.4" x2="559.1" y2="694.0" stroke="#1a1a1a" stroke-width="1.5" />
<line x1="558.4" y1="693.2" x2="677.2" y2="693.2" stroke="#1a1a1a" stroke-width="1.5" />
<line x1="559.1" y1="693.2" x2="559.1" y2="696.0" stroke="#1a1a1a" stroke-width="1.1" />
<text x="559.1" y="703.6" font-family="Liberation Sans" font-size="7.2" font-weight="bold" fill="#222" text-anchor="middle" letter-spacing="0">0</text>
<line x1="582.6" y1="693.2" x2="582.6" y2="696.0" stroke="#1a1a1a" stroke-width="1.1" />
<text x="582.6" y="703.6" font-family="Liberation Sans" font-size="7.2" font-weight="bold" fill="#222" text-anchor="middle" letter-spacing="0">2</text>
<line x1="606.1" y1="693.2" x2="606.1" y2="696.0" stroke="#1a1a1a" stroke-width="1.1" />
<text x="606.1" y="703.6" font-family="Liberation Sans" font-size="7.2" font-weight="bold" fill="#222" text-anchor="middle" letter-spacing="0">4</text>
<line x1="629.6" y1="693.2" x2="629.6" y2="696.0" stroke="#1a1a1a" stroke-width="1.1" />
<text x="629.6" y="703.6" font-family="Liberation Sans" font-size="7.2" font-weight="bold" fill="#222" text-anchor="middle" letter-spacing="0">6</text>
<line x1="653.1" y1="693.2" x2="653.1" y2="696.0" stroke="#1a1a1a" stroke-width="1.1" />
<text x="653.1" y="703.6" font-family="Liberation Sans" font-size="7.2" font-weight="bold" fill="#222" text-anchor="middle" letter-spacing="0">8</text>
<line x1="676.6" y1="693.2" x2="676.6" y2="696.0" stroke="#1a1a1a" stroke-width="1.1" />
<text x="677.2" y="703.6" font-family="Liberation Sans" font-size="7.2" font-weight="bold" fill="#222" text-anchor="middle" letter-spacing="1.2">10</text>
<text x="616.3" y="716.3" font-family="Liberation Sans" font-size="7.4" font-weight="bold" fill="#222" text-anchor="middle" style="white-space:pre">A ni mals  (Nº)</text>
<rect x="559.1" y="624.6" width="11.75" height="22.299999999999955" fill="#000"/>
<rect x="570.85" y="624.6" width="70.5" height="22.299999999999955" fill="#a2a2a2"/>
<rect x="559.1" y="659.1" width="94.0" height="22.199999999999932" fill="#000"/>
<rect x="653.1" y="659.1" width="11.75" height="22.199999999999932" fill="#a2a2a2"/>
<line x1="556.5" y1="635.6" x2="559.1" y2="635.6" stroke="#1a1a1a" stroke-width="1.1" />
<line x1="556.5" y1="670.1" x2="559.1" y2="670.1" stroke="#1a1a1a" stroke-width="1.1" />
<text x="643.7" y="638.9" font-family="Liberation Sans" font-size="8.2" font-weight="bold" fill="#1a1a1a" text-anchor="start" >1 /7</text>
<text x="666.7" y="673.4" font-family="Liberation Sans" font-size="8.2" font-weight="bold" fill="#1a1a1a" text-anchor="start" >8 /9</text>
<polyline points="658.70,636.30 682.50,636.30 682.50,670.30 679.90,670.30" fill="none" stroke="#1a1a1a" stroke-width="1.2" stroke-linejoin="round" stroke-linecap="round" />
<text x="522.5" y="641.9" font-family="Liberation Sans" font-size="7.2" font-weight="bold" fill="#1a1a1a" letter-spacing="0.35">Kir2.1</text>
<text x="543.1" y="634.8" font-family="Liberation Sans" font-size="4.6" font-weight="bold" fill="#1a1a1a" letter-spacing="1.6">WT</text>
<text x="513" y="676.1" font-family="Liberation Sans" font-size="7.2" font-weight="bold" fill="#1a1a1a" letter-spacing="0.35">Kir2.1</text>
<text x="533.4" y="668.9" font-family="Liberation Sans" font-size="4.6" font-weight="bold" fill="#1a1a1a" letter-spacing="0.75">C122Y</text>
<text x="689.5" y="658" font-family="Liberation Sans" font-size="7" font-weight="bold" fill="#222" text-anchor="middle" >**</text>
</svg>
</body></html>
